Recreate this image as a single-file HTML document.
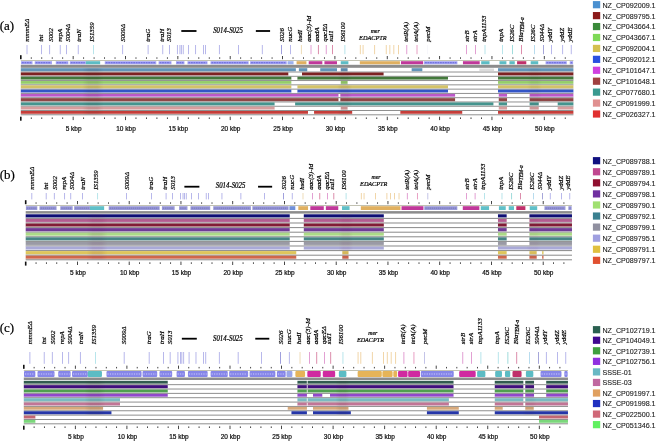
<!DOCTYPE html>
<html><head><meta charset="utf-8"><style>
html,body{margin:0;padding:0;background:#fff;width:657px;height:442px;overflow:hidden}
svg{display:block;filter:blur(0.35px)}
.pl{font-family:"Liberation Serif",serif;font-size:13px;fill:#000;stroke:#000;stroke-width:0.2px}
.gl{font-family:"Liberation Serif",serif;font-style:italic;font-size:7.6px;fill:#000;stroke:#000;stroke-width:0.2px}
.kb{font-family:"Liberation Sans",sans-serif;font-size:6.5px;fill:#111;stroke:#111;stroke-width:0.22px}
.lg{font-family:"Liberation Sans",sans-serif;font-size:7.15px;fill:#1a1a1a;stroke:#1a1a1a;stroke-width:0.1px}
</style></head><body>
<svg width="657" height="442" viewBox="0 0 657 442">
<rect width="657" height="442" fill="#fff"/>
<text x="-0.3" y="29.8" class="pl">(a)</text>
<text transform="translate(29.4 41.8) rotate(-90) scale(0.97 1)" class="gl" style="font-size:7.1px">mmmEΔ</text>
<text transform="translate(42.9 41.8) rotate(-90) scale(0.97 1)" class="gl" style="font-size:7.1px">int</text>
<text transform="translate(52.8 41.8) rotate(-90) scale(0.97 1)" class="gl" style="font-size:7.1px">S002</text>
<text transform="translate(61.9 41.8) rotate(-90) scale(0.97 1)" class="gl" style="font-size:7.1px">repA</text>
<text transform="translate(69.8 41.8) rotate(-90) scale(0.97 1)" class="gl" style="font-size:7.1px">S004Δ</text>
<text transform="translate(81.1 41.8) rotate(-90) scale(0.97 1)" class="gl" style="font-size:7.1px">traN</text>
<text transform="translate(94.1 41.8) rotate(-90) scale(0.97 1)" class="gl" style="font-size:7.1px">IS1359</text>
<text transform="translate(124.9 41.8) rotate(-90) scale(0.97 1)" class="gl" style="font-size:7.1px">S009Δ</text>
<text transform="translate(149.8 41.8) rotate(-90) scale(0.97 1)" class="gl" style="font-size:7.1px">traG</text>
<text transform="translate(163.5 41.8) rotate(-90) scale(0.97 1)" class="gl" style="font-size:7.1px">traH</text>
<text transform="translate(171.3 41.8) rotate(-90) scale(0.97 1)" class="gl" style="font-size:7.1px">S013</text>
<text transform="translate(283.9 41.8) rotate(-90) scale(0.97 1)" class="gl" style="font-size:7.1px">S026</text>
<text transform="translate(292.1 41.8) rotate(-90) scale(0.97 1)" class="gl" style="font-size:7.1px">nucG</text>
<text transform="translate(302.3 41.8) rotate(-90) scale(0.97 1)" class="gl" style="font-size:7.1px">hsdI</text>
<text transform="translate(311.3 41.8) rotate(-90) scale(0.97 1)" class="gl" style="font-size:7.1px">aac(3)-Id</text>
<text transform="translate(319.2 41.8) rotate(-90) scale(0.97 1)" class="gl" style="font-size:7.1px">aadA</text>
<text transform="translate(327.3 41.8) rotate(-90) scale(0.97 1)" class="gl" style="font-size:7.1px">qacEΔ</text>
<text transform="translate(332.8 41.8) rotate(-90) scale(0.97 1)" class="gl" style="font-size:7.1px">sul1</text>
<text transform="translate(344.9 41.8) rotate(-90) scale(0.97 1)" class="gl" style="font-size:7.1px">IS6100</text>
<text transform="translate(408.2 41.8) rotate(-90) scale(0.97 1)" class="gl" style="font-size:7.1px">tetR(A)</text>
<text transform="translate(417.7 41.8) rotate(-90) scale(0.97 1)" class="gl" style="font-size:7.1px">tetA(A)</text>
<text transform="translate(429.9 41.8) rotate(-90) scale(0.97 1)" class="gl" style="font-size:7.1px">pecM</text>
<text transform="translate(468.9 41.8) rotate(-90) scale(0.97 1)" class="gl" style="font-size:7.1px">strB</text>
<text transform="translate(476.9 41.8) rotate(-90) scale(0.97 1)" class="gl" style="font-size:7.1px">strA</text>
<text transform="translate(485.6 41.8) rotate(-90) scale(0.97 1)" class="gl" style="font-size:7.1px">tnpA1133</text>
<text transform="translate(503.2 41.8) rotate(-90) scale(0.97 1)" class="gl" style="font-size:7.1px">tnpA</text>
<text transform="translate(513.5 41.8) rotate(-90) scale(0.97 1)" class="gl" style="font-size:7.1px">IS26C</text>
<text transform="translate(522.8 41.8) rotate(-90) scale(0.97 1)" class="gl" style="font-size:7.1px">Bla<tspan font-size="5.4" dy="0.8">TEM-a</tspan></text>
<text transform="translate(535.1 41.8) rotate(-90) scale(0.97 1)" class="gl" style="font-size:7.1px">IS26C</text>
<text transform="translate(543.5 41.8) rotate(-90) scale(0.97 1)" class="gl" style="font-size:7.1px">S044Δ</text>
<text transform="translate(552 41.8) rotate(-90) scale(0.97 1)" class="gl" style="font-size:7.1px">yddY</text>
<text transform="translate(563.9 41.8) rotate(-90) scale(0.97 1)" class="gl" style="font-size:7.1px">yddZ</text>
<text transform="translate(571.5 41.8) rotate(-90) scale(0.97 1)" class="gl" style="font-size:7.1px">yddE</text>
<rect x="181.31" y="30.1" width="15.18" height="1.8" fill="#000"/>
<rect x="255.85" y="30.1" width="14.24" height="1.8" fill="#000"/>
<text transform="translate(228 33) scale(0.9 1)" class="gl" text-anchor="middle">S014-S025</text>
<text x="375.21" y="32.6" class="gl" text-anchor="middle" style="font-size:5.8px">mer</text>
<text x="372.8" y="39.9" class="gl" text-anchor="middle" style="font-size:6.6px" textLength="27.43" lengthAdjust="spacingAndGlyphs">EDACPTR</text>
<rect x="26.63" y="45" width="0.75" height="9.2" fill="#a0a0e4"/>
<rect x="41.13" y="45" width="0.75" height="9.2" fill="#a0a0e4"/>
<rect x="49.33" y="45" width="0.75" height="9.2" fill="#a0a0e4"/>
<rect x="59.83" y="45" width="0.75" height="9.2" fill="#a0a0e4"/>
<rect x="66.03" y="45" width="0.75" height="9.2" fill="#a0a0e4"/>
<rect x="77.83" y="45" width="0.75" height="9.2" fill="#a0a0e4"/>
<rect x="93.23" y="45" width="0.75" height="9.2" fill="#a0dce4"/>
<rect x="122.33" y="45" width="0.75" height="9.2" fill="#a0a0e4"/>
<rect x="147.72" y="45" width="0.75" height="9.2" fill="#a0a0e4"/>
<rect x="162.42" y="45" width="0.75" height="9.2" fill="#a0a0e4"/>
<rect x="169.03" y="45" width="0.75" height="9.2" fill="#a0a0e4"/>
<rect x="176.96" y="45" width="0.75" height="9.2" fill="#a0a0e4"/>
<rect x="179.57" y="45" width="0.75" height="9.2" fill="#a0a0e4"/>
<rect x="180.94" y="45" width="0.75" height="9.2" fill="#a0a0e4"/>
<rect x="182.82" y="45" width="0.75" height="9.2" fill="#a0a0e4"/>
<rect x="188.26" y="45" width="0.75" height="9.2" fill="#a0a0e4"/>
<rect x="195.28" y="45" width="0.75" height="9.2" fill="#a0a0e4"/>
<rect x="203.03" y="45" width="0.75" height="9.2" fill="#a0a0e4"/>
<rect x="205.23" y="45" width="0.75" height="9.2" fill="#a0a0e4"/>
<rect x="218.94" y="45" width="0.75" height="9.2" fill="#a0a0e4"/>
<rect x="238.1" y="45" width="0.75" height="9.2" fill="#a0a0e4"/>
<rect x="261.87" y="45" width="0.75" height="9.2" fill="#a0a0e4"/>
<rect x="281.23" y="45" width="0.75" height="9.2" fill="#8080d0"/>
<rect x="290.03" y="45" width="0.75" height="9.2" fill="#a0a0e4"/>
<rect x="300.93" y="45" width="0.75" height="9.2" fill="#e8d0a0"/>
<rect x="310.63" y="45" width="0.75" height="9.2" fill="#d880c4"/>
<rect x="317.94" y="45" width="0.75" height="9.2" fill="#d06890"/>
<rect x="325.83" y="45" width="0.75" height="9.2" fill="#d880c4"/>
<rect x="332.13" y="45" width="0.75" height="9.2" fill="#d06890"/>
<rect x="344.53" y="45" width="0.75" height="9.2" fill="#a0dce4"/>
<rect x="359.87" y="45" width="0.75" height="9.2" fill="#ecc88c"/>
<rect x="362.69" y="45" width="0.75" height="9.2" fill="#ecc88c"/>
<rect x="374.32" y="45" width="0.75" height="9.2" fill="#ecc88c"/>
<rect x="385.83" y="45" width="0.75" height="9.2" fill="#ecc88c"/>
<rect x="389.5" y="45" width="0.75" height="9.2" fill="#ecc88c"/>
<rect x="393.48" y="45" width="0.75" height="9.2" fill="#ecc88c"/>
<rect x="398.08" y="45" width="0.75" height="9.2" fill="#ecc88c"/>
<rect x="406.43" y="45" width="0.75" height="9.2" fill="#d880c4"/>
<rect x="416.63" y="45" width="0.75" height="9.2" fill="#e080b0"/>
<rect x="427.23" y="45" width="0.75" height="9.2" fill="#f4f4fa"/>
<rect x="466.23" y="45" width="0.75" height="9.2" fill="#d880c4"/>
<rect x="475.03" y="45" width="0.75" height="9.2" fill="#d880c4"/>
<rect x="484.63" y="45" width="0.75" height="9.2" fill="#a0dce4"/>
<rect x="502.23" y="45" width="0.75" height="9.2" fill="#a0dce4"/>
<rect x="512.03" y="45" width="0.75" height="9.2" fill="#80d0d0"/>
<rect x="521.03" y="45" width="0.75" height="9.2" fill="#d06890"/>
<rect x="534.03" y="45" width="0.75" height="9.2" fill="#a0d0e8"/>
<rect x="543.13" y="45" width="0.75" height="9.2" fill="#8888cc"/>
<rect x="551.03" y="45" width="0.75" height="9.2" fill="#a0a0e4"/>
<rect x="562.33" y="45" width="0.75" height="9.2" fill="#a0a0e4"/>
<rect x="570.83" y="45" width="0.75" height="9.2" fill="#a0a0e4"/>
<rect x="20" y="55.2" width="1.6" height="4" fill="#111"/>
<rect x="30.82" y="57.3" width="0.9" height="1.5" fill="#333"/>
<rect x="41.29" y="57.3" width="0.9" height="1.5" fill="#333"/>
<rect x="51.76" y="57.3" width="0.9" height="1.5" fill="#333"/>
<rect x="62.23" y="57.3" width="0.9" height="1.5" fill="#333"/>
<rect x="72.7" y="56" width="0.9" height="3.2" fill="#333"/>
<rect x="83.17" y="57.3" width="0.9" height="1.5" fill="#333"/>
<rect x="93.64" y="57.3" width="0.9" height="1.5" fill="#333"/>
<rect x="104.11" y="57.3" width="0.9" height="1.5" fill="#333"/>
<rect x="114.58" y="57.3" width="0.9" height="1.5" fill="#333"/>
<rect x="125.05" y="56" width="0.9" height="3.2" fill="#333"/>
<rect x="135.52" y="57.3" width="0.9" height="1.5" fill="#333"/>
<rect x="145.99" y="57.3" width="0.9" height="1.5" fill="#333"/>
<rect x="156.46" y="57.3" width="0.9" height="1.5" fill="#333"/>
<rect x="166.93" y="57.3" width="0.9" height="1.5" fill="#333"/>
<rect x="177.4" y="56" width="0.9" height="3.2" fill="#333"/>
<rect x="187.87" y="57.3" width="0.9" height="1.5" fill="#333"/>
<rect x="198.34" y="57.3" width="0.9" height="1.5" fill="#333"/>
<rect x="208.81" y="57.3" width="0.9" height="1.5" fill="#333"/>
<rect x="219.28" y="57.3" width="0.9" height="1.5" fill="#333"/>
<rect x="229.75" y="56" width="0.9" height="3.2" fill="#333"/>
<rect x="240.22" y="57.3" width="0.9" height="1.5" fill="#333"/>
<rect x="250.69" y="57.3" width="0.9" height="1.5" fill="#333"/>
<rect x="261.16" y="57.3" width="0.9" height="1.5" fill="#333"/>
<rect x="271.63" y="57.3" width="0.9" height="1.5" fill="#333"/>
<rect x="282.1" y="56" width="0.9" height="3.2" fill="#333"/>
<rect x="292.57" y="57.3" width="0.9" height="1.5" fill="#333"/>
<rect x="303.04" y="57.3" width="0.9" height="1.5" fill="#333"/>
<rect x="313.51" y="57.3" width="0.9" height="1.5" fill="#333"/>
<rect x="323.98" y="57.3" width="0.9" height="1.5" fill="#333"/>
<rect x="334.45" y="56" width="0.9" height="3.2" fill="#333"/>
<rect x="344.92" y="57.3" width="0.9" height="1.5" fill="#333"/>
<rect x="355.39" y="57.3" width="0.9" height="1.5" fill="#333"/>
<rect x="365.86" y="57.3" width="0.9" height="1.5" fill="#333"/>
<rect x="376.33" y="57.3" width="0.9" height="1.5" fill="#333"/>
<rect x="386.8" y="56" width="0.9" height="3.2" fill="#333"/>
<rect x="397.27" y="57.3" width="0.9" height="1.5" fill="#333"/>
<rect x="407.74" y="57.3" width="0.9" height="1.5" fill="#333"/>
<rect x="418.21" y="57.3" width="0.9" height="1.5" fill="#333"/>
<rect x="428.68" y="57.3" width="0.9" height="1.5" fill="#333"/>
<rect x="439.15" y="56" width="0.9" height="3.2" fill="#333"/>
<rect x="449.62" y="57.3" width="0.9" height="1.5" fill="#333"/>
<rect x="460.09" y="57.3" width="0.9" height="1.5" fill="#333"/>
<rect x="470.56" y="57.3" width="0.9" height="1.5" fill="#333"/>
<rect x="481.03" y="57.3" width="0.9" height="1.5" fill="#333"/>
<rect x="491.5" y="56" width="0.9" height="3.2" fill="#333"/>
<rect x="501.97" y="57.3" width="0.9" height="1.5" fill="#333"/>
<rect x="512.44" y="57.3" width="0.9" height="1.5" fill="#333"/>
<rect x="522.91" y="57.3" width="0.9" height="1.5" fill="#333"/>
<rect x="533.38" y="57.3" width="0.9" height="1.5" fill="#333"/>
<rect x="543.85" y="56" width="0.9" height="3.2" fill="#333"/>
<rect x="554.32" y="57.3" width="0.9" height="1.5" fill="#333"/>
<rect x="564.79" y="57.3" width="0.9" height="1.5" fill="#333"/>
<rect x="20.8" y="60.3" width="552.61" height="0.6" fill="#9a9a80"/>
<rect x="21.01" y="61.2" width="11.52" height="3.1" rx="0" fill="#a4a4f4"/>
<line x1="22.01" y1="62.75" x2="31.53" y2="62.75" stroke="#6464d8" stroke-width="1.08" stroke-dasharray="1.8 0.7"/>
<rect x="34.73" y="61.2" width="17.28" height="3.1" rx="0" fill="#a4a4f4"/>
<line x1="35.73" y1="62.75" x2="51" y2="62.75" stroke="#6464d8" stroke-width="1.08" stroke-dasharray="1.8 0.7"/>
<rect x="55.77" y="61.2" width="12.56" height="3.1" rx="0" fill="#a4a4f4"/>
<line x1="56.77" y1="62.75" x2="67.33" y2="62.75" stroke="#6464d8" stroke-width="1.08" stroke-dasharray="1.8 0.7"/>
<rect x="69.8" y="61.2" width="16.02" height="3.1" rx="0" fill="#a4a4f4"/>
<line x1="70.8" y1="62.75" x2="84.82" y2="62.75" stroke="#6464d8" stroke-width="1.08" stroke-dasharray="1.8 0.7"/>
<rect x="85.82" y="61.2" width="14.34" height="3.1" rx="0" fill="#5cbcc4"/>
<rect x="104.77" y="61.2" width="51.51" height="3.1" rx="0" fill="#a4a4f4"/>
<line x1="105.77" y1="62.75" x2="155.28" y2="62.75" stroke="#6464d8" stroke-width="1.08" stroke-dasharray="1.8 0.7"/>
<rect x="158.59" y="61.2" width="12.88" height="3.1" rx="0" fill="#a4a4f4"/>
<line x1="159.59" y1="62.75" x2="170.46" y2="62.75" stroke="#6464d8" stroke-width="1.08" stroke-dasharray="1.8 0.7"/>
<rect x="175.97" y="61.2" width="8.48" height="3.1" rx="0" fill="#a4a4f4"/>
<line x1="176.97" y1="62.75" x2="183.45" y2="62.75" stroke="#6464d8" stroke-width="1.08" stroke-dasharray="1.8 0.7"/>
<rect x="187.48" y="61.2" width="20" height="3.1" rx="0" fill="#a4a4f4"/>
<line x1="188.48" y1="62.75" x2="206.48" y2="62.75" stroke="#6464d8" stroke-width="1.08" stroke-dasharray="1.8 0.7"/>
<rect x="210.52" y="61.2" width="38.11" height="3.1" rx="0" fill="#a4a4f4"/>
<line x1="211.52" y1="62.75" x2="247.63" y2="62.75" stroke="#6464d8" stroke-width="1.08" stroke-dasharray="1.8 0.7"/>
<rect x="250.09" y="61.2" width="36.65" height="3.1" rx="0" fill="#a4a4f4"/>
<line x1="251.09" y1="62.75" x2="285.74" y2="62.75" stroke="#6464d8" stroke-width="1.08" stroke-dasharray="1.8 0.7"/>
<rect x="287.58" y="61.2" width="5.97" height="3.1" rx="0" fill="#9ab0f0"/>
<rect x="296.58" y="61.2" width="9.84" height="3.1" rx="0" fill="#e0b060"/>
<rect x="308.73" y="61.2" width="13.61" height="3.1" rx="0" fill="#c0389a"/>
<rect x="324.43" y="61.2" width="12.56" height="3.1" rx="0" fill="#c0389a"/>
<rect x="340.76" y="61.2" width="7.64" height="3.1" rx="0" fill="#5cbcc4"/>
<rect x="359.82" y="61.2" width="40.1" height="3.1" rx="0" fill="#e0b060"/>
<rect x="400.97" y="61.2" width="22.2" height="3.1" rx="0" fill="#c0389a"/>
<rect x="424" y="61.2" width="33.4" height="3.1" rx="0" fill="#a4a4f4"/>
<line x1="425" y1="62.75" x2="456.4" y2="62.75" stroke="#6464d8" stroke-width="1.08" stroke-dasharray="1.8 0.7"/>
<rect x="462.95" y="61.2" width="16.75" height="3.1" rx="0" fill="#c0389a"/>
<rect x="481.17" y="61.2" width="8.38" height="3.1" rx="0" fill="#5cbcc4"/>
<rect x="499.49" y="61.2" width="6.91" height="3.1" rx="0" fill="#5cbcc4"/>
<rect x="509.43" y="61.2" width="5.34" height="3.1" rx="0" fill="#5cbcc4"/>
<rect x="517.08" y="61.2" width="9.21" height="3.1" rx="0" fill="#c0306a"/>
<rect x="530.69" y="61.2" width="7.54" height="3.1" rx="0" fill="#5cbcc4"/>
<rect x="545.56" y="61.2" width="21.25" height="3.1" rx="0" fill="#a4a4f4"/>
<line x1="546.56" y1="62.75" x2="565.81" y2="62.75" stroke="#6464d8" stroke-width="1.08" stroke-dasharray="1.8 0.7"/>
<rect x="569.74" y="61.2" width="3.35" height="3.1" rx="0" fill="#a4a4f4"/>
<line x1="570.74" y1="62.75" x2="572.09" y2="62.75" stroke="#6464d8" stroke-width="1.08" stroke-dasharray="1.8 0.7"/>
<rect x="20.8" y="64.8" width="552.61" height="3" fill="#8c8c8c"/>
<rect x="20.8" y="68.2" width="275.05" height="2.82" fill="#6295b9"/>
<rect x="20.8" y="71.02" width="275.05" height="0.51" fill="#a8c4d8"/>
<rect x="298.88" y="68.2" width="8.38" height="2.82" fill="#6295b9"/>
<rect x="298.88" y="71.02" width="8.38" height="0.51" fill="#a8c4d8"/>
<rect x="320.24" y="68.2" width="16.75" height="2.82" fill="#6295b9"/>
<rect x="320.24" y="71.02" width="16.75" height="0.51" fill="#a8c4d8"/>
<rect x="340.76" y="68.2" width="6.81" height="2.82" fill="#6295b9"/>
<rect x="340.76" y="71.02" width="6.81" height="0.51" fill="#a8c4d8"/>
<rect x="411.65" y="68.2" width="10.68" height="2.82" fill="#6295b9"/>
<rect x="411.65" y="71.02" width="10.68" height="0.51" fill="#a8c4d8"/>
<rect x="498.02" y="68.2" width="75.38" height="2.82" fill="#6295b9"/>
<rect x="498.02" y="71.02" width="75.38" height="0.51" fill="#a8c4d8"/>
<rect x="20.8" y="71.54" width="552.61" height="0.94" fill="#8a8a8a"/>
<rect x="20.8" y="72.48" width="267.51" height="2.82" fill="#7d2222"/>
<rect x="20.8" y="75.3" width="267.51" height="0.51" fill="#b78585"/>
<rect x="302.02" y="72.48" width="81.56" height="2.82" fill="#7d2222"/>
<rect x="302.02" y="75.3" width="81.56" height="0.51" fill="#b78585"/>
<rect x="498.02" y="72.48" width="75.38" height="2.82" fill="#7d2222"/>
<rect x="498.02" y="75.3" width="75.38" height="0.51" fill="#b78585"/>
<rect x="20.8" y="75.82" width="552.61" height="0.94" fill="#8a8a8a"/>
<rect x="20.8" y="76.76" width="270.54" height="2.82" fill="#43793b"/>
<rect x="20.8" y="79.58" width="270.54" height="0.51" fill="#97b593"/>
<rect x="297.42" y="76.76" width="150.56" height="2.82" fill="#43793b"/>
<rect x="297.42" y="79.58" width="150.56" height="0.51" fill="#97b593"/>
<rect x="498.02" y="76.76" width="75.38" height="2.82" fill="#43793b"/>
<rect x="498.02" y="79.58" width="75.38" height="0.51" fill="#97b593"/>
<rect x="20.8" y="80.1" width="552.61" height="0.94" fill="#8a8a8a"/>
<rect x="20.8" y="81.04" width="270.54" height="2.82" fill="#95cd69"/>
<rect x="20.8" y="83.86" width="270.54" height="0.51" fill="#c4e3ac"/>
<rect x="340.76" y="81.04" width="6.81" height="2.82" fill="#95cd69"/>
<rect x="340.76" y="83.86" width="6.81" height="0.51" fill="#c4e3ac"/>
<rect x="498.02" y="81.04" width="75.38" height="2.82" fill="#95cd69"/>
<rect x="498.02" y="83.86" width="75.38" height="0.51" fill="#c4e3ac"/>
<rect x="20.8" y="84.38" width="552.61" height="0.94" fill="#8a8a8a"/>
<rect x="20.8" y="85.32" width="270.54" height="2.82" fill="#d3c267"/>
<rect x="20.8" y="88.14" width="270.54" height="0.51" fill="#e6ddab"/>
<rect x="297.42" y="85.32" width="150.56" height="2.82" fill="#d3c267"/>
<rect x="297.42" y="88.14" width="150.56" height="0.51" fill="#e6ddab"/>
<rect x="498.02" y="85.32" width="75.38" height="2.82" fill="#d3c267"/>
<rect x="498.02" y="88.14" width="75.38" height="0.51" fill="#e6ddab"/>
<rect x="20.8" y="88.66" width="552.61" height="0.94" fill="#8a8a8a"/>
<rect x="20.8" y="89.6" width="270.54" height="2.82" fill="#3355c7"/>
<rect x="20.8" y="92.42" width="270.54" height="0.51" fill="#8ea1e0"/>
<rect x="297.42" y="89.6" width="150.56" height="2.82" fill="#3355c7"/>
<rect x="297.42" y="92.42" width="150.56" height="0.51" fill="#8ea1e0"/>
<rect x="498.02" y="89.6" width="75.38" height="2.82" fill="#3355c7"/>
<rect x="498.02" y="92.42" width="75.38" height="0.51" fill="#8ea1e0"/>
<rect x="20.8" y="92.94" width="552.61" height="0.94" fill="#8a8a8a"/>
<rect x="20.8" y="93.88" width="317.66" height="2.82" fill="#bc58c8"/>
<rect x="20.8" y="96.7" width="317.66" height="0.51" fill="#daa3e0"/>
<rect x="340.34" y="93.88" width="114.75" height="2.82" fill="#bc58c8"/>
<rect x="340.34" y="96.7" width="114.75" height="0.51" fill="#daa3e0"/>
<rect x="498.76" y="93.88" width="8.27" height="2.82" fill="#bc58c8"/>
<rect x="498.76" y="96.7" width="8.27" height="0.51" fill="#daa3e0"/>
<rect x="529.64" y="93.88" width="43.76" height="2.82" fill="#bc58c8"/>
<rect x="529.64" y="96.7" width="43.76" height="0.51" fill="#daa3e0"/>
<rect x="20.8" y="97.22" width="552.61" height="0.94" fill="#8a8a8a"/>
<rect x="20.8" y="98.16" width="317.66" height="2.82" fill="#8e4444"/>
<rect x="20.8" y="100.98" width="317.66" height="0.51" fill="#c09898"/>
<rect x="340.34" y="98.16" width="114.75" height="2.82" fill="#8e4444"/>
<rect x="340.34" y="100.98" width="114.75" height="0.51" fill="#c09898"/>
<rect x="498.76" y="98.16" width="8.27" height="2.82" fill="#8e4444"/>
<rect x="498.76" y="100.98" width="8.27" height="0.51" fill="#c09898"/>
<rect x="529.64" y="98.16" width="43.76" height="2.82" fill="#8e4444"/>
<rect x="529.64" y="100.98" width="43.76" height="0.51" fill="#c09898"/>
<rect x="20.8" y="101.5" width="552.61" height="0.94" fill="#8a8a8a"/>
<rect x="20.8" y="102.44" width="253.79" height="2.82" fill="#45948e"/>
<rect x="20.8" y="105.26" width="253.79" height="0.51" fill="#98c4c0"/>
<rect x="295.11" y="102.44" width="198.3" height="2.82" fill="#45948e"/>
<rect x="295.11" y="105.26" width="198.3" height="0.51" fill="#98c4c0"/>
<rect x="498.76" y="102.44" width="8.27" height="2.82" fill="#45948e"/>
<rect x="498.76" y="105.26" width="8.27" height="0.51" fill="#98c4c0"/>
<rect x="529.64" y="102.44" width="9.11" height="2.82" fill="#45948e"/>
<rect x="529.64" y="105.26" width="9.11" height="0.51" fill="#98c4c0"/>
<rect x="557.7" y="102.44" width="15.71" height="2.82" fill="#45948e"/>
<rect x="557.7" y="105.26" width="15.71" height="0.51" fill="#98c4c0"/>
<rect x="20.8" y="105.78" width="552.61" height="0.94" fill="#8a8a8a"/>
<rect x="20.8" y="106.72" width="253.79" height="2.82" fill="#d89d9d"/>
<rect x="20.8" y="109.54" width="253.79" height="0.51" fill="#e9c9c9"/>
<rect x="340.76" y="106.72" width="6.81" height="2.82" fill="#d89d9d"/>
<rect x="340.76" y="109.54" width="6.81" height="0.51" fill="#e9c9c9"/>
<rect x="498.76" y="106.72" width="8.27" height="2.82" fill="#d89d9d"/>
<rect x="498.76" y="109.54" width="8.27" height="0.51" fill="#e9c9c9"/>
<rect x="529.64" y="106.72" width="9.11" height="2.82" fill="#d89d9d"/>
<rect x="529.64" y="109.54" width="9.11" height="0.51" fill="#e9c9c9"/>
<rect x="557.7" y="106.72" width="15.71" height="2.82" fill="#d89d9d"/>
<rect x="557.7" y="109.54" width="15.71" height="0.51" fill="#e9c9c9"/>
<rect x="20.8" y="110.06" width="552.61" height="0.94" fill="#8a8a8a"/>
<rect x="20.8" y="111" width="287.19" height="2.82" fill="#c63d39"/>
<rect x="20.8" y="113.82" width="287.19" height="0.51" fill="#df9492"/>
<rect x="314.06" y="111" width="38.11" height="2.82" fill="#c63d39"/>
<rect x="314.06" y="113.82" width="38.11" height="0.51" fill="#df9492"/>
<rect x="400.34" y="111" width="61.88" height="2.82" fill="#c63d39"/>
<rect x="400.34" y="113.82" width="61.88" height="0.51" fill="#df9492"/>
<rect x="498.02" y="111" width="75.38" height="2.82" fill="#c63d39"/>
<rect x="498.02" y="113.82" width="75.38" height="0.51" fill="#df9492"/>
<rect x="20.8" y="114.34" width="552.61" height="0.94" fill="#8a8a8a"/>
<rect x="479.39" y="68.5" width="14.66" height="2.57" fill="#dcdcdc"/>
<defs><linearGradient id="sg283" gradientUnits="userSpaceOnUse" x1="82.15" y1="0" x2="103.83" y2="0"><stop offset="0" stop-color="#302020" stop-opacity="0"/><stop offset="0.3" stop-color="#302020" stop-opacity="0.11"/><stop offset="0.7" stop-color="#302020" stop-opacity="0.11"/><stop offset="1" stop-color="#302020" stop-opacity="0"/></linearGradient></defs>
<rect x="82.15" y="68.2" width="21.67" height="3.51" fill="url(#sg283)"/>
<rect x="82.15" y="72.48" width="21.67" height="3.51" fill="url(#sg283)"/>
<rect x="82.15" y="76.76" width="21.67" height="3.51" fill="url(#sg283)"/>
<rect x="82.15" y="81.04" width="21.67" height="3.51" fill="url(#sg283)"/>
<rect x="82.15" y="85.32" width="21.67" height="3.51" fill="url(#sg283)"/>
<rect x="82.15" y="89.6" width="21.67" height="3.51" fill="url(#sg283)"/>
<rect x="82.15" y="93.88" width="21.67" height="3.51" fill="url(#sg283)"/>
<rect x="82.15" y="98.16" width="21.67" height="3.51" fill="url(#sg283)"/>
<rect x="82.15" y="102.44" width="21.67" height="3.51" fill="url(#sg283)"/>
<rect x="82.15" y="106.72" width="21.67" height="3.51" fill="url(#sg283)"/>
<rect x="82.15" y="111" width="21.67" height="3.51" fill="url(#sg283)"/>
<defs><linearGradient id="sg295" gradientUnits="userSpaceOnUse" x1="337.1" y1="0" x2="352.07" y2="0"><stop offset="0" stop-color="#302020" stop-opacity="0"/><stop offset="0.3" stop-color="#302020" stop-opacity="0.09"/><stop offset="0.7" stop-color="#302020" stop-opacity="0.09"/><stop offset="1" stop-color="#302020" stop-opacity="0"/></linearGradient></defs>
<rect x="340.76" y="68.2" width="6.81" height="3.51" fill="url(#sg295)"/>
<rect x="337.1" y="72.48" width="14.97" height="3.51" fill="url(#sg295)"/>
<rect x="337.1" y="76.76" width="14.97" height="3.51" fill="url(#sg295)"/>
<rect x="340.76" y="81.04" width="6.81" height="3.51" fill="url(#sg295)"/>
<rect x="337.1" y="85.32" width="14.97" height="3.51" fill="url(#sg295)"/>
<rect x="337.1" y="89.6" width="14.97" height="3.51" fill="url(#sg295)"/>
<rect x="337.1" y="93.88" width="1.36" height="3.51" fill="url(#sg295)"/>
<rect x="340.34" y="93.88" width="11.73" height="3.51" fill="url(#sg295)"/>
<rect x="337.1" y="98.16" width="1.36" height="3.51" fill="url(#sg295)"/>
<rect x="340.34" y="98.16" width="11.73" height="3.51" fill="url(#sg295)"/>
<rect x="337.1" y="102.44" width="14.97" height="3.51" fill="url(#sg295)"/>
<rect x="340.76" y="106.72" width="6.81" height="3.51" fill="url(#sg295)"/>
<rect x="337.1" y="111" width="14.97" height="3.51" fill="url(#sg295)"/>
<defs><linearGradient id="sg309" gradientUnits="userSpaceOnUse" x1="527.02" y1="0" x2="541.89" y2="0"><stop offset="0" stop-color="#302020" stop-opacity="0"/><stop offset="0.3" stop-color="#302020" stop-opacity="0.06"/><stop offset="0.7" stop-color="#302020" stop-opacity="0.06"/><stop offset="1" stop-color="#302020" stop-opacity="0"/></linearGradient></defs>
<rect x="527.02" y="68.2" width="14.87" height="3.51" fill="url(#sg309)"/>
<rect x="527.02" y="72.48" width="14.87" height="3.51" fill="url(#sg309)"/>
<rect x="527.02" y="76.76" width="14.87" height="3.51" fill="url(#sg309)"/>
<rect x="527.02" y="81.04" width="14.87" height="3.51" fill="url(#sg309)"/>
<rect x="527.02" y="85.32" width="14.87" height="3.51" fill="url(#sg309)"/>
<rect x="527.02" y="89.6" width="14.87" height="3.51" fill="url(#sg309)"/>
<rect x="529.64" y="93.88" width="12.25" height="3.51" fill="url(#sg309)"/>
<rect x="529.64" y="98.16" width="12.25" height="3.51" fill="url(#sg309)"/>
<rect x="529.64" y="102.44" width="9.11" height="3.51" fill="url(#sg309)"/>
<rect x="529.64" y="106.72" width="9.11" height="3.51" fill="url(#sg309)"/>
<rect x="527.02" y="111" width="14.87" height="3.51" fill="url(#sg309)"/>
<rect x="20" y="116.7" width="1.6" height="4" fill="#111"/>
<rect x="30.82" y="117.4" width="0.9" height="1.6" fill="#333"/>
<rect x="41.29" y="117.4" width="0.9" height="1.6" fill="#333"/>
<rect x="51.76" y="117.4" width="0.9" height="1.6" fill="#333"/>
<rect x="62.23" y="117.4" width="0.9" height="1.6" fill="#333"/>
<rect x="72.7" y="116.7" width="0.9" height="3.4" fill="#333"/>
<text x="73.65" y="130.6" class="kb" text-anchor="middle">5 kbp</text>
<rect x="83.17" y="117.4" width="0.9" height="1.6" fill="#333"/>
<rect x="93.64" y="117.4" width="0.9" height="1.6" fill="#333"/>
<rect x="104.11" y="117.4" width="0.9" height="1.6" fill="#333"/>
<rect x="114.58" y="117.4" width="0.9" height="1.6" fill="#333"/>
<rect x="125.05" y="116.7" width="0.9" height="3.4" fill="#333"/>
<text x="126" y="130.6" class="kb" text-anchor="middle">10 kbp</text>
<rect x="135.52" y="117.4" width="0.9" height="1.6" fill="#333"/>
<rect x="145.99" y="117.4" width="0.9" height="1.6" fill="#333"/>
<rect x="156.46" y="117.4" width="0.9" height="1.6" fill="#333"/>
<rect x="166.93" y="117.4" width="0.9" height="1.6" fill="#333"/>
<rect x="177.4" y="116.7" width="0.9" height="3.4" fill="#333"/>
<text x="178.35" y="130.6" class="kb" text-anchor="middle">15 kbp</text>
<rect x="187.87" y="117.4" width="0.9" height="1.6" fill="#333"/>
<rect x="198.34" y="117.4" width="0.9" height="1.6" fill="#333"/>
<rect x="208.81" y="117.4" width="0.9" height="1.6" fill="#333"/>
<rect x="219.28" y="117.4" width="0.9" height="1.6" fill="#333"/>
<rect x="229.75" y="116.7" width="0.9" height="3.4" fill="#333"/>
<text x="230.7" y="130.6" class="kb" text-anchor="middle">20 kbp</text>
<rect x="240.22" y="117.4" width="0.9" height="1.6" fill="#333"/>
<rect x="250.69" y="117.4" width="0.9" height="1.6" fill="#333"/>
<rect x="261.16" y="117.4" width="0.9" height="1.6" fill="#333"/>
<rect x="271.63" y="117.4" width="0.9" height="1.6" fill="#333"/>
<rect x="282.1" y="116.7" width="0.9" height="3.4" fill="#333"/>
<text x="283.05" y="130.6" class="kb" text-anchor="middle">25 kbp</text>
<rect x="292.57" y="117.4" width="0.9" height="1.6" fill="#333"/>
<rect x="303.04" y="117.4" width="0.9" height="1.6" fill="#333"/>
<rect x="313.51" y="117.4" width="0.9" height="1.6" fill="#333"/>
<rect x="323.98" y="117.4" width="0.9" height="1.6" fill="#333"/>
<rect x="334.45" y="116.7" width="0.9" height="3.4" fill="#333"/>
<text x="335.4" y="130.6" class="kb" text-anchor="middle">30 kbp</text>
<rect x="344.92" y="117.4" width="0.9" height="1.6" fill="#333"/>
<rect x="355.39" y="117.4" width="0.9" height="1.6" fill="#333"/>
<rect x="365.86" y="117.4" width="0.9" height="1.6" fill="#333"/>
<rect x="376.33" y="117.4" width="0.9" height="1.6" fill="#333"/>
<rect x="386.8" y="116.7" width="0.9" height="3.4" fill="#333"/>
<text x="387.75" y="130.6" class="kb" text-anchor="middle">35 kbp</text>
<rect x="397.27" y="117.4" width="0.9" height="1.6" fill="#333"/>
<rect x="407.74" y="117.4" width="0.9" height="1.6" fill="#333"/>
<rect x="418.21" y="117.4" width="0.9" height="1.6" fill="#333"/>
<rect x="428.68" y="117.4" width="0.9" height="1.6" fill="#333"/>
<rect x="439.15" y="116.7" width="0.9" height="3.4" fill="#333"/>
<text x="440.1" y="130.6" class="kb" text-anchor="middle">40 kbp</text>
<rect x="449.62" y="117.4" width="0.9" height="1.6" fill="#333"/>
<rect x="460.09" y="117.4" width="0.9" height="1.6" fill="#333"/>
<rect x="470.56" y="117.4" width="0.9" height="1.6" fill="#333"/>
<rect x="481.03" y="117.4" width="0.9" height="1.6" fill="#333"/>
<rect x="491.5" y="116.7" width="0.9" height="3.4" fill="#333"/>
<text x="492.45" y="130.6" class="kb" text-anchor="middle">45 kbp</text>
<rect x="501.97" y="117.4" width="0.9" height="1.6" fill="#333"/>
<rect x="512.44" y="117.4" width="0.9" height="1.6" fill="#333"/>
<rect x="522.91" y="117.4" width="0.9" height="1.6" fill="#333"/>
<rect x="533.38" y="117.4" width="0.9" height="1.6" fill="#333"/>
<rect x="543.85" y="116.7" width="0.9" height="3.4" fill="#333"/>
<text x="544.8" y="130.6" class="kb" text-anchor="middle">50 kbp</text>
<rect x="554.32" y="117.4" width="0.9" height="1.6" fill="#333"/>
<rect x="564.79" y="117.4" width="0.9" height="1.6" fill="#333"/>
<rect x="592.9" y="1.1" width="7.3" height="7.2" fill="#4a90d0"/>
<text x="602.4" y="7.6" class="lg">NZ_CP092009.1</text>
<rect x="592.9" y="12.03" width="7.3" height="7.2" fill="#8b1a1a"/>
<text x="602.4" y="18.53" class="lg">NZ_CP089795.1</text>
<rect x="592.9" y="22.96" width="7.3" height="7.2" fill="#3a8a3a"/>
<text x="602.4" y="29.46" class="lg">NZ_CP043664.1</text>
<rect x="592.9" y="33.89" width="7.3" height="7.2" fill="#7ed957"/>
<text x="602.4" y="40.39" class="lg">NZ_CP043667.1</text>
<rect x="592.9" y="44.82" width="7.3" height="7.2" fill="#d4c050"/>
<text x="602.4" y="51.32" class="lg">NZ_CP092004.1</text>
<rect x="592.9" y="55.75" width="7.3" height="7.2" fill="#2a50e0"/>
<text x="602.4" y="62.25" class="lg">NZ_CP092012.1</text>
<rect x="592.9" y="66.68" width="7.3" height="7.2" fill="#d040e0"/>
<text x="602.4" y="73.18" class="lg">NZ_CP101647.1</text>
<rect x="592.9" y="77.61" width="7.3" height="7.2" fill="#a04040"/>
<text x="602.4" y="84.11" class="lg">NZ_CP101648.1</text>
<rect x="592.9" y="88.54" width="7.3" height="7.2" fill="#3a9a90"/>
<text x="602.4" y="95.04" class="lg">NZ_CP077680.1</text>
<rect x="592.9" y="99.47" width="7.3" height="7.2" fill="#e09090"/>
<text x="602.4" y="105.97" class="lg">NZ_CP091999.1</text>
<rect x="592.9" y="110.4" width="7.3" height="7.2" fill="#e03030"/>
<text x="602.4" y="116.9" class="lg">NZ_CP026327.1</text>
<text x="-0.3" y="178.7" class="pl">(b)</text>
<text transform="translate(34.23 189.8) rotate(-90) scale(0.97 1)" class="gl" style="font-size:7.1px">mmmEΔ</text>
<text transform="translate(47.57 189.8) rotate(-90) scale(0.97 1)" class="gl" style="font-size:7.1px">int</text>
<text transform="translate(57.36 189.8) rotate(-90) scale(0.97 1)" class="gl" style="font-size:7.1px">S002</text>
<text transform="translate(66.36 189.8) rotate(-90) scale(0.97 1)" class="gl" style="font-size:7.1px">repA</text>
<text transform="translate(74.16 189.8) rotate(-90) scale(0.97 1)" class="gl" style="font-size:7.1px">S004Δ</text>
<text transform="translate(85.34 189.8) rotate(-90) scale(0.97 1)" class="gl" style="font-size:7.1px">traN</text>
<text transform="translate(98.18 189.8) rotate(-90) scale(0.97 1)" class="gl" style="font-size:7.1px">IS1359</text>
<text transform="translate(128.63 189.8) rotate(-90) scale(0.97 1)" class="gl" style="font-size:7.1px">S009Δ</text>
<text transform="translate(153.25 189.8) rotate(-90) scale(0.97 1)" class="gl" style="font-size:7.1px">traG</text>
<text transform="translate(166.79 189.8) rotate(-90) scale(0.97 1)" class="gl" style="font-size:7.1px">traH</text>
<text transform="translate(174.5 189.8) rotate(-90) scale(0.97 1)" class="gl" style="font-size:7.1px">S013</text>
<text transform="translate(285.81 189.8) rotate(-90) scale(0.97 1)" class="gl" style="font-size:7.1px">S026</text>
<text transform="translate(293.91 189.8) rotate(-90) scale(0.97 1)" class="gl" style="font-size:7.1px">nucG</text>
<text transform="translate(304 189.8) rotate(-90) scale(0.97 1)" class="gl" style="font-size:7.1px">hsdI</text>
<text transform="translate(312.89 189.8) rotate(-90) scale(0.97 1)" class="gl" style="font-size:7.1px">aac(3)-Id</text>
<text transform="translate(320.71 189.8) rotate(-90) scale(0.97 1)" class="gl" style="font-size:7.1px">aadA</text>
<text transform="translate(328.71 189.8) rotate(-90) scale(0.97 1)" class="gl" style="font-size:7.1px">qacEΔ</text>
<text transform="translate(334.15 189.8) rotate(-90) scale(0.97 1)" class="gl" style="font-size:7.1px">sul1</text>
<text transform="translate(346.11 189.8) rotate(-90) scale(0.97 1)" class="gl" style="font-size:7.1px">IS6100</text>
<text transform="translate(408.68 189.8) rotate(-90) scale(0.97 1)" class="gl" style="font-size:7.1px">tetR(A)</text>
<text transform="translate(418.08 189.8) rotate(-90) scale(0.97 1)" class="gl" style="font-size:7.1px">tetA(A)</text>
<text transform="translate(430.14 189.8) rotate(-90) scale(0.97 1)" class="gl" style="font-size:7.1px">pecM</text>
<text transform="translate(468.69 189.8) rotate(-90) scale(0.97 1)" class="gl" style="font-size:7.1px">strB</text>
<text transform="translate(476.6 189.8) rotate(-90) scale(0.97 1)" class="gl" style="font-size:7.1px">strA</text>
<text transform="translate(485.2 189.8) rotate(-90) scale(0.97 1)" class="gl" style="font-size:7.1px">tnpA1133</text>
<text transform="translate(502.6 189.8) rotate(-90) scale(0.97 1)" class="gl" style="font-size:7.1px">tnpA</text>
<text transform="translate(512.78 189.8) rotate(-90) scale(0.97 1)" class="gl" style="font-size:7.1px">IS26C</text>
<text transform="translate(521.97 189.8) rotate(-90) scale(0.97 1)" class="gl" style="font-size:7.1px">Bla<tspan font-size="5.4" dy="0.8">TEM-a</tspan></text>
<text transform="translate(534.14 189.8) rotate(-90) scale(0.97 1)" class="gl" style="font-size:7.1px">IS26C</text>
<text transform="translate(542.44 189.8) rotate(-90) scale(0.97 1)" class="gl" style="font-size:7.1px">S044Δ</text>
<text transform="translate(550.84 189.8) rotate(-90) scale(0.97 1)" class="gl" style="font-size:7.1px">yddY</text>
<text transform="translate(562.6 189.8) rotate(-90) scale(0.97 1)" class="gl" style="font-size:7.1px">yddZ</text>
<text transform="translate(570.11 189.8) rotate(-90) scale(0.97 1)" class="gl" style="font-size:7.1px">yddE</text>
<rect x="184.37" y="185.8" width="15.01" height="1.8" fill="#000"/>
<rect x="258.06" y="185.8" width="14.08" height="1.8" fill="#000"/>
<text transform="translate(230.53 188.2) scale(0.9 1)" class="gl" text-anchor="middle">S014-S025</text>
<text x="376.05" y="179.3" class="gl" text-anchor="middle" style="font-size:5.8px">mer</text>
<text x="373.67" y="186.1" class="gl" text-anchor="middle" style="font-size:6.6px" textLength="27.12" lengthAdjust="spacingAndGlyphs">EDACPTR</text>
<rect x="31.46" y="193" width="0.75" height="6.4" fill="#a0a0e4"/>
<rect x="45.79" y="193" width="0.75" height="6.4" fill="#a0a0e4"/>
<rect x="53.9" y="193" width="0.75" height="6.4" fill="#a0a0e4"/>
<rect x="64.28" y="193" width="0.75" height="6.4" fill="#a0a0e4"/>
<rect x="70.4" y="193" width="0.75" height="6.4" fill="#a0a0e4"/>
<rect x="82.07" y="193" width="0.75" height="6.4" fill="#a0a0e4"/>
<rect x="97.29" y="193" width="0.75" height="6.4" fill="#a0dce4"/>
<rect x="126.07" y="193" width="0.75" height="6.4" fill="#a0a0e4"/>
<rect x="151.17" y="193" width="0.75" height="6.4" fill="#a0a0e4"/>
<rect x="165.7" y="193" width="0.75" height="6.4" fill="#a0a0e4"/>
<rect x="172.23" y="193" width="0.75" height="6.4" fill="#a0a0e4"/>
<rect x="180.06" y="193" width="0.75" height="6.4" fill="#a0a0e4"/>
<rect x="182.65" y="193" width="0.75" height="6.4" fill="#a0a0e4"/>
<rect x="184" y="193" width="0.75" height="6.4" fill="#a0a0e4"/>
<rect x="185.86" y="193" width="0.75" height="6.4" fill="#a0a0e4"/>
<rect x="191.24" y="193" width="0.75" height="6.4" fill="#a0a0e4"/>
<rect x="198.17" y="193" width="0.75" height="6.4" fill="#a0a0e4"/>
<rect x="205.83" y="193" width="0.75" height="6.4" fill="#a0a0e4"/>
<rect x="208.01" y="193" width="0.75" height="6.4" fill="#a0a0e4"/>
<rect x="221.57" y="193" width="0.75" height="6.4" fill="#a0a0e4"/>
<rect x="240.51" y="193" width="0.75" height="6.4" fill="#a0a0e4"/>
<rect x="264" y="193" width="0.75" height="6.4" fill="#a0a0e4"/>
<rect x="283.14" y="193" width="0.75" height="6.4" fill="#8080d0"/>
<rect x="291.84" y="193" width="0.75" height="6.4" fill="#a0a0e4"/>
<rect x="302.62" y="193" width="0.75" height="6.4" fill="#e8d0a0"/>
<rect x="312.2" y="193" width="0.75" height="6.4" fill="#d880c4"/>
<rect x="319.43" y="193" width="0.75" height="6.4" fill="#d06890"/>
<rect x="327.23" y="193" width="0.75" height="6.4" fill="#d880c4"/>
<rect x="333.46" y="193" width="0.75" height="6.4" fill="#d06890"/>
<rect x="345.71" y="193" width="0.75" height="6.4" fill="#a0dce4"/>
<rect x="360.88" y="193" width="0.75" height="6.4" fill="#ecc88c"/>
<rect x="363.67" y="193" width="0.75" height="6.4" fill="#ecc88c"/>
<rect x="375.16" y="193" width="0.75" height="6.4" fill="#ecc88c"/>
<rect x="386.54" y="193" width="0.75" height="6.4" fill="#ecc88c"/>
<rect x="390.17" y="193" width="0.75" height="6.4" fill="#ecc88c"/>
<rect x="394.1" y="193" width="0.75" height="6.4" fill="#ecc88c"/>
<rect x="398.65" y="193" width="0.75" height="6.4" fill="#ecc88c"/>
<rect x="406.9" y="193" width="0.75" height="6.4" fill="#d880c4"/>
<rect x="416.98" y="193" width="0.75" height="6.4" fill="#e080b0"/>
<rect x="427.47" y="193" width="0.75" height="6.4" fill="#b0b0e0"/>
<rect x="466.02" y="193" width="0.75" height="6.4" fill="#d880c4"/>
<rect x="474.72" y="193" width="0.75" height="6.4" fill="#d880c4"/>
<rect x="484.21" y="193" width="0.75" height="6.4" fill="#a0dce4"/>
<rect x="501.61" y="193" width="0.75" height="6.4" fill="#a0dce4"/>
<rect x="511.29" y="193" width="0.75" height="6.4" fill="#80d0d0"/>
<rect x="520.19" y="193" width="0.75" height="6.4" fill="#d06890"/>
<rect x="533.04" y="193" width="0.75" height="6.4" fill="#a0d0e8"/>
<rect x="542.04" y="193" width="0.75" height="6.4" fill="#8888cc"/>
<rect x="549.85" y="193" width="0.75" height="6.4" fill="#a0a0e4"/>
<rect x="561.01" y="193" width="0.75" height="6.4" fill="#a0a0e4"/>
<rect x="569.42" y="193" width="0.75" height="6.4" fill="#a0a0e4"/>
<rect x="24.9" y="200.2" width="1.6" height="4" fill="#111"/>
<rect x="35.6" y="202.3" width="0.9" height="1.5" fill="#333"/>
<rect x="45.95" y="202.3" width="0.9" height="1.5" fill="#333"/>
<rect x="56.3" y="202.3" width="0.9" height="1.5" fill="#333"/>
<rect x="66.65" y="202.3" width="0.9" height="1.5" fill="#333"/>
<rect x="77" y="201" width="0.9" height="3.2" fill="#333"/>
<rect x="87.35" y="202.3" width="0.9" height="1.5" fill="#333"/>
<rect x="97.7" y="202.3" width="0.9" height="1.5" fill="#333"/>
<rect x="108.05" y="202.3" width="0.9" height="1.5" fill="#333"/>
<rect x="118.4" y="202.3" width="0.9" height="1.5" fill="#333"/>
<rect x="128.75" y="201" width="0.9" height="3.2" fill="#333"/>
<rect x="139.1" y="202.3" width="0.9" height="1.5" fill="#333"/>
<rect x="149.45" y="202.3" width="0.9" height="1.5" fill="#333"/>
<rect x="159.8" y="202.3" width="0.9" height="1.5" fill="#333"/>
<rect x="170.15" y="202.3" width="0.9" height="1.5" fill="#333"/>
<rect x="180.5" y="201" width="0.9" height="3.2" fill="#333"/>
<rect x="190.85" y="202.3" width="0.9" height="1.5" fill="#333"/>
<rect x="201.2" y="202.3" width="0.9" height="1.5" fill="#333"/>
<rect x="211.55" y="202.3" width="0.9" height="1.5" fill="#333"/>
<rect x="221.9" y="202.3" width="0.9" height="1.5" fill="#333"/>
<rect x="232.25" y="201" width="0.9" height="3.2" fill="#333"/>
<rect x="242.6" y="202.3" width="0.9" height="1.5" fill="#333"/>
<rect x="252.95" y="202.3" width="0.9" height="1.5" fill="#333"/>
<rect x="263.3" y="202.3" width="0.9" height="1.5" fill="#333"/>
<rect x="273.65" y="202.3" width="0.9" height="1.5" fill="#333"/>
<rect x="284" y="201" width="0.9" height="3.2" fill="#333"/>
<rect x="294.35" y="202.3" width="0.9" height="1.5" fill="#333"/>
<rect x="304.7" y="202.3" width="0.9" height="1.5" fill="#333"/>
<rect x="315.05" y="202.3" width="0.9" height="1.5" fill="#333"/>
<rect x="325.4" y="202.3" width="0.9" height="1.5" fill="#333"/>
<rect x="335.75" y="201" width="0.9" height="3.2" fill="#333"/>
<rect x="346.1" y="202.3" width="0.9" height="1.5" fill="#333"/>
<rect x="356.45" y="202.3" width="0.9" height="1.5" fill="#333"/>
<rect x="366.8" y="202.3" width="0.9" height="1.5" fill="#333"/>
<rect x="377.15" y="202.3" width="0.9" height="1.5" fill="#333"/>
<rect x="387.5" y="201" width="0.9" height="3.2" fill="#333"/>
<rect x="397.85" y="202.3" width="0.9" height="1.5" fill="#333"/>
<rect x="408.2" y="202.3" width="0.9" height="1.5" fill="#333"/>
<rect x="418.55" y="202.3" width="0.9" height="1.5" fill="#333"/>
<rect x="428.9" y="202.3" width="0.9" height="1.5" fill="#333"/>
<rect x="439.25" y="201" width="0.9" height="3.2" fill="#333"/>
<rect x="449.6" y="202.3" width="0.9" height="1.5" fill="#333"/>
<rect x="459.95" y="202.3" width="0.9" height="1.5" fill="#333"/>
<rect x="470.3" y="202.3" width="0.9" height="1.5" fill="#333"/>
<rect x="480.65" y="202.3" width="0.9" height="1.5" fill="#333"/>
<rect x="491" y="201" width="0.9" height="3.2" fill="#333"/>
<rect x="501.35" y="202.3" width="0.9" height="1.5" fill="#333"/>
<rect x="511.7" y="202.3" width="0.9" height="1.5" fill="#333"/>
<rect x="522.05" y="202.3" width="0.9" height="1.5" fill="#333"/>
<rect x="532.4" y="202.3" width="0.9" height="1.5" fill="#333"/>
<rect x="542.75" y="201" width="0.9" height="3.2" fill="#333"/>
<rect x="553.1" y="202.3" width="0.9" height="1.5" fill="#333"/>
<rect x="563.45" y="202.3" width="0.9" height="1.5" fill="#333"/>
<rect x="25.7" y="205.4" width="546.27" height="0.6" fill="#9a9a80"/>
<rect x="25.91" y="206.2" width="11.38" height="3.8" rx="0" fill="#9a9ad8"/>
<line x1="26.91" y1="208.1" x2="36.29" y2="208.1" stroke="#7a7ac0" stroke-width="1.33" stroke-dasharray="1.5 0.6"/>
<rect x="39.47" y="206.2" width="17.08" height="3.8" rx="0" fill="#9a9ad8"/>
<line x1="40.47" y1="208.1" x2="55.54" y2="208.1" stroke="#7a7ac0" stroke-width="1.33" stroke-dasharray="1.5 0.6"/>
<rect x="60.27" y="206.2" width="12.42" height="3.8" rx="0" fill="#9a9ad8"/>
<line x1="61.27" y1="208.1" x2="71.69" y2="208.1" stroke="#7a7ac0" stroke-width="1.33" stroke-dasharray="1.5 0.6"/>
<rect x="74.14" y="206.2" width="15.84" height="3.8" rx="0" fill="#9a9ad8"/>
<line x1="75.14" y1="208.1" x2="88.97" y2="208.1" stroke="#7a7ac0" stroke-width="1.33" stroke-dasharray="1.5 0.6"/>
<rect x="89.97" y="206.2" width="14.18" height="3.8" rx="0" fill="#60c0c8"/>
<rect x="108.71" y="206.2" width="50.92" height="3.8" rx="0" fill="#9a9ad8"/>
<line x1="109.71" y1="208.1" x2="158.63" y2="208.1" stroke="#7a7ac0" stroke-width="1.33" stroke-dasharray="1.5 0.6"/>
<rect x="161.91" y="206.2" width="12.73" height="3.8" rx="0" fill="#9a9ad8"/>
<line x1="162.91" y1="208.1" x2="173.64" y2="208.1" stroke="#7a7ac0" stroke-width="1.33" stroke-dasharray="1.5 0.6"/>
<rect x="179.09" y="206.2" width="8.38" height="3.8" rx="0" fill="#9a9ad8"/>
<line x1="180.09" y1="208.1" x2="186.47" y2="208.1" stroke="#7a7ac0" stroke-width="1.33" stroke-dasharray="1.5 0.6"/>
<rect x="190.47" y="206.2" width="19.77" height="3.8" rx="0" fill="#9a9ad8"/>
<line x1="191.47" y1="208.1" x2="209.24" y2="208.1" stroke="#7a7ac0" stroke-width="1.33" stroke-dasharray="1.5 0.6"/>
<rect x="213.24" y="206.2" width="37.67" height="3.8" rx="0" fill="#9a9ad8"/>
<line x1="214.24" y1="208.1" x2="249.92" y2="208.1" stroke="#7a7ac0" stroke-width="1.33" stroke-dasharray="1.5 0.6"/>
<rect x="252.36" y="206.2" width="36.23" height="3.8" rx="0" fill="#9a9ad8"/>
<line x1="253.36" y1="208.1" x2="287.59" y2="208.1" stroke="#7a7ac0" stroke-width="1.33" stroke-dasharray="1.5 0.6"/>
<rect x="289.42" y="206.2" width="5.9" height="3.8" rx="0" fill="#7090d8"/>
<rect x="298.32" y="206.2" width="9.73" height="3.8" rx="0" fill="#e0b060"/>
<rect x="310.32" y="206.2" width="13.46" height="3.8" rx="0" fill="#c0389a"/>
<rect x="325.85" y="206.2" width="12.42" height="3.8" rx="0" fill="#c0389a"/>
<rect x="342" y="206.2" width="7.56" height="3.8" rx="0" fill="#60c0c8"/>
<rect x="360.83" y="206.2" width="39.64" height="3.8" rx="0" fill="#e0b060"/>
<rect x="401.51" y="206.2" width="21.94" height="3.8" rx="0" fill="#c0389a"/>
<rect x="424.28" y="206.2" width="33.02" height="3.8" rx="0" fill="#9a9ad8"/>
<line x1="425.28" y1="208.1" x2="456.3" y2="208.1" stroke="#7a7ac0" stroke-width="1.33" stroke-dasharray="1.5 0.6"/>
<rect x="462.78" y="206.2" width="16.56" height="3.8" rx="0" fill="#c0389a"/>
<rect x="480.79" y="206.2" width="8.28" height="3.8" rx="0" fill="#60c0c8"/>
<rect x="498.9" y="206.2" width="6.83" height="3.8" rx="0" fill="#60c0c8"/>
<rect x="508.73" y="206.2" width="5.28" height="3.8" rx="0" fill="#60c0c8"/>
<rect x="516.29" y="206.2" width="9.11" height="3.8" rx="0" fill="#c0306a"/>
<rect x="529.75" y="206.2" width="7.45" height="3.8" rx="0" fill="#60c0c8"/>
<rect x="544.44" y="206.2" width="21.01" height="3.8" rx="0" fill="#9a9ad8"/>
<line x1="545.44" y1="208.1" x2="564.45" y2="208.1" stroke="#7a7ac0" stroke-width="1.33" stroke-dasharray="1.5 0.6"/>
<rect x="568.35" y="206.2" width="3.31" height="3.8" rx="0" fill="#9a9ad8"/>
<line x1="569.35" y1="208.1" x2="570.66" y2="208.1" stroke="#7a7ac0" stroke-width="1.33" stroke-dasharray="1.5 0.6"/>
<rect x="25.7" y="211.1" width="546.27" height="2.5" fill="#8c8c8c"/>
<rect x="25.7" y="214.3" width="264.03" height="3.04" fill="#0e0e74"/>
<rect x="25.7" y="217.34" width="264.03" height="0.55" fill="#7a7ab2"/>
<rect x="303.8" y="214.3" width="80.01" height="3.04" fill="#0e0e74"/>
<rect x="303.8" y="217.34" width="80.01" height="0.55" fill="#7a7ab2"/>
<rect x="497.97" y="214.3" width="8.69" height="3.04" fill="#0e0e74"/>
<rect x="497.97" y="217.34" width="8.69" height="0.55" fill="#7a7ab2"/>
<rect x="529.43" y="214.3" width="42.54" height="3.04" fill="#0e0e74"/>
<rect x="529.43" y="217.34" width="42.54" height="0.55" fill="#7a7ab2"/>
<rect x="25.7" y="217.89" width="546.27" height="1.01" fill="#8a8a8a"/>
<rect x="25.7" y="218.9" width="264.03" height="3.04" fill="#b35c90"/>
<rect x="25.7" y="221.94" width="264.03" height="0.55" fill="#d5a5c1"/>
<rect x="303.8" y="218.9" width="80.01" height="3.04" fill="#b35c90"/>
<rect x="303.8" y="221.94" width="80.01" height="0.55" fill="#d5a5c1"/>
<rect x="497.97" y="218.9" width="8.69" height="3.04" fill="#b35c90"/>
<rect x="497.97" y="221.94" width="8.69" height="0.55" fill="#d5a5c1"/>
<rect x="529.43" y="218.9" width="42.54" height="3.04" fill="#b35c90"/>
<rect x="529.43" y="221.94" width="42.54" height="0.55" fill="#d5a5c1"/>
<rect x="25.7" y="222.49" width="546.27" height="1.01" fill="#8a8a8a"/>
<rect x="25.7" y="223.5" width="264.03" height="3.04" fill="#811c36"/>
<rect x="25.7" y="226.54" width="264.03" height="0.55" fill="#b98290"/>
<rect x="303.8" y="223.5" width="80.01" height="3.04" fill="#811c36"/>
<rect x="303.8" y="226.54" width="80.01" height="0.55" fill="#b98290"/>
<rect x="497.97" y="223.5" width="8.69" height="3.04" fill="#811c36"/>
<rect x="497.97" y="226.54" width="8.69" height="0.55" fill="#b98290"/>
<rect x="529.43" y="223.5" width="42.54" height="3.04" fill="#811c36"/>
<rect x="529.43" y="226.54" width="42.54" height="0.55" fill="#b98290"/>
<rect x="25.7" y="227.09" width="546.27" height="1.01" fill="#8a8a8a"/>
<rect x="25.7" y="228.1" width="264.03" height="3.04" fill="#6f3a96"/>
<rect x="25.7" y="231.14" width="264.03" height="0.55" fill="#af92c5"/>
<rect x="303.8" y="228.1" width="80.01" height="3.04" fill="#6f3a96"/>
<rect x="303.8" y="231.14" width="80.01" height="0.55" fill="#af92c5"/>
<rect x="497.97" y="228.1" width="8.69" height="3.04" fill="#6f3a96"/>
<rect x="497.97" y="231.14" width="8.69" height="0.55" fill="#af92c5"/>
<rect x="529.43" y="228.1" width="42.54" height="3.04" fill="#6f3a96"/>
<rect x="529.43" y="231.14" width="42.54" height="0.55" fill="#af92c5"/>
<rect x="25.7" y="231.69" width="546.27" height="1.01" fill="#8a8a8a"/>
<rect x="25.7" y="232.7" width="264.03" height="3.04" fill="#acda87"/>
<rect x="25.7" y="235.74" width="264.03" height="0.55" fill="#d1eabd"/>
<rect x="303.8" y="232.7" width="80.01" height="3.04" fill="#acda87"/>
<rect x="303.8" y="235.74" width="80.01" height="0.55" fill="#d1eabd"/>
<rect x="497.97" y="232.7" width="8.69" height="3.04" fill="#acda87"/>
<rect x="497.97" y="235.74" width="8.69" height="0.55" fill="#d1eabd"/>
<rect x="529.43" y="232.7" width="42.54" height="3.04" fill="#acda87"/>
<rect x="529.43" y="235.74" width="42.54" height="0.55" fill="#d1eabd"/>
<rect x="25.7" y="236.29" width="546.27" height="1.01" fill="#8a8a8a"/>
<rect x="25.7" y="237.3" width="264.03" height="3.04" fill="#468585"/>
<rect x="25.7" y="240.34" width="264.03" height="0.55" fill="#99bbbb"/>
<rect x="303.8" y="237.3" width="80.01" height="3.04" fill="#468585"/>
<rect x="303.8" y="240.34" width="80.01" height="0.55" fill="#99bbbb"/>
<rect x="497.97" y="237.3" width="8.69" height="3.04" fill="#468585"/>
<rect x="497.97" y="240.34" width="8.69" height="0.55" fill="#99bbbb"/>
<rect x="529.43" y="237.3" width="42.54" height="3.04" fill="#468585"/>
<rect x="529.43" y="240.34" width="42.54" height="0.55" fill="#99bbbb"/>
<rect x="25.7" y="240.89" width="546.27" height="1.01" fill="#8a8a8a"/>
<rect x="25.7" y="241.9" width="264.03" height="3.04" fill="#9a9aa5"/>
<rect x="25.7" y="244.94" width="264.03" height="0.55" fill="#c7c7cd"/>
<rect x="303.8" y="241.9" width="80.01" height="3.04" fill="#9a9aa5"/>
<rect x="303.8" y="244.94" width="80.01" height="0.55" fill="#c7c7cd"/>
<rect x="497.97" y="241.9" width="8.69" height="3.04" fill="#9a9aa5"/>
<rect x="497.97" y="244.94" width="8.69" height="0.55" fill="#c7c7cd"/>
<rect x="529.43" y="241.9" width="42.54" height="3.04" fill="#9a9aa5"/>
<rect x="529.43" y="244.94" width="42.54" height="0.55" fill="#c7c7cd"/>
<rect x="25.7" y="245.49" width="546.27" height="1.01" fill="#8a8a8a"/>
<rect x="25.7" y="246.5" width="264.03" height="3.04" fill="#a9a9d7"/>
<rect x="25.7" y="249.54" width="264.03" height="0.55" fill="#cfcfe9"/>
<rect x="303.8" y="246.5" width="80.01" height="3.04" fill="#a9a9d7"/>
<rect x="303.8" y="249.54" width="80.01" height="0.55" fill="#cfcfe9"/>
<rect x="497.97" y="246.5" width="74" height="3.04" fill="#a9a9d7"/>
<rect x="497.97" y="249.54" width="74" height="0.55" fill="#cfcfe9"/>
<rect x="25.7" y="250.09" width="546.27" height="1.01" fill="#8a8a8a"/>
<rect x="25.7" y="251.1" width="270.55" height="3.04" fill="#dec65b"/>
<rect x="25.7" y="254.14" width="270.55" height="0.55" fill="#ecdfa4"/>
<rect x="342.31" y="251.1" width="6.21" height="3.04" fill="#dec65b"/>
<rect x="342.31" y="254.14" width="6.21" height="0.55" fill="#ecdfa4"/>
<rect x="497.97" y="251.1" width="8.69" height="3.04" fill="#dec65b"/>
<rect x="497.97" y="254.14" width="8.69" height="0.55" fill="#ecdfa4"/>
<rect x="529.43" y="251.1" width="7.24" height="3.04" fill="#dec65b"/>
<rect x="529.43" y="254.14" width="7.24" height="0.55" fill="#ecdfa4"/>
<rect x="542.16" y="251.1" width="1.35" height="3.04" fill="#dec65b"/>
<rect x="542.16" y="254.14" width="1.35" height="0.55" fill="#ecdfa4"/>
<rect x="25.7" y="254.69" width="546.27" height="1.01" fill="#8a8a8a"/>
<rect x="25.7" y="255.7" width="270.55" height="3.04" fill="#cf664b"/>
<rect x="25.7" y="258.74" width="270.55" height="0.55" fill="#e4aa9c"/>
<rect x="342.31" y="255.7" width="6.21" height="3.04" fill="#cf664b"/>
<rect x="342.31" y="258.74" width="6.21" height="0.55" fill="#e4aa9c"/>
<rect x="497.97" y="255.7" width="8.69" height="3.04" fill="#cf664b"/>
<rect x="497.97" y="258.74" width="8.69" height="0.55" fill="#e4aa9c"/>
<rect x="529.43" y="255.7" width="7.24" height="3.04" fill="#cf664b"/>
<rect x="529.43" y="258.74" width="7.24" height="0.55" fill="#e4aa9c"/>
<rect x="542.16" y="255.7" width="1.35" height="3.04" fill="#cf664b"/>
<rect x="542.16" y="258.74" width="1.35" height="0.55" fill="#e4aa9c"/>
<rect x="25.7" y="259.29" width="546.27" height="1.01" fill="#8a8a8a"/>
<defs><linearGradient id="sg683" gradientUnits="userSpaceOnUse" x1="86.35" y1="0" x2="107.78" y2="0"><stop offset="0" stop-color="#601040" stop-opacity="0"/><stop offset="0.3" stop-color="#601040" stop-opacity="0.1"/><stop offset="0.7" stop-color="#601040" stop-opacity="0.1"/><stop offset="1" stop-color="#601040" stop-opacity="0"/></linearGradient></defs>
<rect x="86.35" y="214.3" width="21.42" height="3.77" fill="url(#sg683)"/>
<rect x="86.35" y="218.9" width="21.42" height="3.77" fill="url(#sg683)"/>
<rect x="86.35" y="223.5" width="21.42" height="3.77" fill="url(#sg683)"/>
<rect x="86.35" y="228.1" width="21.42" height="3.77" fill="url(#sg683)"/>
<rect x="86.35" y="232.7" width="21.42" height="3.77" fill="url(#sg683)"/>
<rect x="86.35" y="237.3" width="21.42" height="3.77" fill="url(#sg683)"/>
<rect x="86.35" y="241.9" width="21.42" height="3.77" fill="url(#sg683)"/>
<rect x="86.35" y="246.5" width="21.42" height="3.77" fill="url(#sg683)"/>
<rect x="86.35" y="251.1" width="21.42" height="3.77" fill="url(#sg683)"/>
<rect x="86.35" y="255.7" width="21.42" height="3.77" fill="url(#sg683)"/>
<defs><linearGradient id="sg694" gradientUnits="userSpaceOnUse" x1="338.37" y1="0" x2="353.17" y2="0"><stop offset="0" stop-color="#601040" stop-opacity="0"/><stop offset="0.3" stop-color="#601040" stop-opacity="0.08"/><stop offset="0.7" stop-color="#601040" stop-opacity="0.08"/><stop offset="1" stop-color="#601040" stop-opacity="0"/></linearGradient></defs>
<rect x="338.37" y="214.3" width="14.8" height="3.77" fill="url(#sg694)"/>
<rect x="338.37" y="218.9" width="14.8" height="3.77" fill="url(#sg694)"/>
<rect x="338.37" y="223.5" width="14.8" height="3.77" fill="url(#sg694)"/>
<rect x="338.37" y="228.1" width="14.8" height="3.77" fill="url(#sg694)"/>
<rect x="338.37" y="232.7" width="14.8" height="3.77" fill="url(#sg694)"/>
<rect x="338.37" y="237.3" width="14.8" height="3.77" fill="url(#sg694)"/>
<rect x="338.37" y="241.9" width="14.8" height="3.77" fill="url(#sg694)"/>
<rect x="338.37" y="246.5" width="14.8" height="3.77" fill="url(#sg694)"/>
<rect x="342.31" y="251.1" width="6.21" height="3.77" fill="url(#sg694)"/>
<rect x="342.31" y="255.7" width="6.21" height="3.77" fill="url(#sg694)"/>
<defs><linearGradient id="sg705" gradientUnits="userSpaceOnUse" x1="526.12" y1="0" x2="540.82" y2="0"><stop offset="0" stop-color="#601040" stop-opacity="0"/><stop offset="0.3" stop-color="#601040" stop-opacity="0.05"/><stop offset="0.7" stop-color="#601040" stop-opacity="0.05"/><stop offset="1" stop-color="#601040" stop-opacity="0"/></linearGradient></defs>
<rect x="529.43" y="214.3" width="11.39" height="3.77" fill="url(#sg705)"/>
<rect x="529.43" y="218.9" width="11.39" height="3.77" fill="url(#sg705)"/>
<rect x="529.43" y="223.5" width="11.39" height="3.77" fill="url(#sg705)"/>
<rect x="529.43" y="228.1" width="11.39" height="3.77" fill="url(#sg705)"/>
<rect x="529.43" y="232.7" width="11.39" height="3.77" fill="url(#sg705)"/>
<rect x="529.43" y="237.3" width="11.39" height="3.77" fill="url(#sg705)"/>
<rect x="529.43" y="241.9" width="11.39" height="3.77" fill="url(#sg705)"/>
<rect x="526.12" y="246.5" width="14.7" height="3.77" fill="url(#sg705)"/>
<rect x="529.43" y="251.1" width="7.24" height="3.77" fill="url(#sg705)"/>
<rect x="529.43" y="255.7" width="7.24" height="3.77" fill="url(#sg705)"/>
<rect x="24.9" y="261.6" width="1.6" height="4" fill="#111"/>
<rect x="35.6" y="262.3" width="0.9" height="1.6" fill="#333"/>
<rect x="45.95" y="262.3" width="0.9" height="1.6" fill="#333"/>
<rect x="56.3" y="262.3" width="0.9" height="1.6" fill="#333"/>
<rect x="66.65" y="262.3" width="0.9" height="1.6" fill="#333"/>
<rect x="77" y="261.6" width="0.9" height="3.4" fill="#333"/>
<text x="77.95" y="275" class="kb" text-anchor="middle">5 kbp</text>
<rect x="87.35" y="262.3" width="0.9" height="1.6" fill="#333"/>
<rect x="97.7" y="262.3" width="0.9" height="1.6" fill="#333"/>
<rect x="108.05" y="262.3" width="0.9" height="1.6" fill="#333"/>
<rect x="118.4" y="262.3" width="0.9" height="1.6" fill="#333"/>
<rect x="128.75" y="261.6" width="0.9" height="3.4" fill="#333"/>
<text x="129.7" y="275" class="kb" text-anchor="middle">10 kbp</text>
<rect x="139.1" y="262.3" width="0.9" height="1.6" fill="#333"/>
<rect x="149.45" y="262.3" width="0.9" height="1.6" fill="#333"/>
<rect x="159.8" y="262.3" width="0.9" height="1.6" fill="#333"/>
<rect x="170.15" y="262.3" width="0.9" height="1.6" fill="#333"/>
<rect x="180.5" y="261.6" width="0.9" height="3.4" fill="#333"/>
<text x="181.45" y="275" class="kb" text-anchor="middle">15 kbp</text>
<rect x="190.85" y="262.3" width="0.9" height="1.6" fill="#333"/>
<rect x="201.2" y="262.3" width="0.9" height="1.6" fill="#333"/>
<rect x="211.55" y="262.3" width="0.9" height="1.6" fill="#333"/>
<rect x="221.9" y="262.3" width="0.9" height="1.6" fill="#333"/>
<rect x="232.25" y="261.6" width="0.9" height="3.4" fill="#333"/>
<text x="233.2" y="275" class="kb" text-anchor="middle">20 kbp</text>
<rect x="242.6" y="262.3" width="0.9" height="1.6" fill="#333"/>
<rect x="252.95" y="262.3" width="0.9" height="1.6" fill="#333"/>
<rect x="263.3" y="262.3" width="0.9" height="1.6" fill="#333"/>
<rect x="273.65" y="262.3" width="0.9" height="1.6" fill="#333"/>
<rect x="284" y="261.6" width="0.9" height="3.4" fill="#333"/>
<text x="284.95" y="275" class="kb" text-anchor="middle">25 kbp</text>
<rect x="294.35" y="262.3" width="0.9" height="1.6" fill="#333"/>
<rect x="304.7" y="262.3" width="0.9" height="1.6" fill="#333"/>
<rect x="315.05" y="262.3" width="0.9" height="1.6" fill="#333"/>
<rect x="325.4" y="262.3" width="0.9" height="1.6" fill="#333"/>
<rect x="335.75" y="261.6" width="0.9" height="3.4" fill="#333"/>
<text x="336.7" y="275" class="kb" text-anchor="middle">30 kbp</text>
<rect x="346.1" y="262.3" width="0.9" height="1.6" fill="#333"/>
<rect x="356.45" y="262.3" width="0.9" height="1.6" fill="#333"/>
<rect x="366.8" y="262.3" width="0.9" height="1.6" fill="#333"/>
<rect x="377.15" y="262.3" width="0.9" height="1.6" fill="#333"/>
<rect x="387.5" y="261.6" width="0.9" height="3.4" fill="#333"/>
<text x="388.45" y="275" class="kb" text-anchor="middle">35 kbp</text>
<rect x="397.85" y="262.3" width="0.9" height="1.6" fill="#333"/>
<rect x="408.2" y="262.3" width="0.9" height="1.6" fill="#333"/>
<rect x="418.55" y="262.3" width="0.9" height="1.6" fill="#333"/>
<rect x="428.9" y="262.3" width="0.9" height="1.6" fill="#333"/>
<rect x="439.25" y="261.6" width="0.9" height="3.4" fill="#333"/>
<text x="440.2" y="275" class="kb" text-anchor="middle">40 kbp</text>
<rect x="449.6" y="262.3" width="0.9" height="1.6" fill="#333"/>
<rect x="459.95" y="262.3" width="0.9" height="1.6" fill="#333"/>
<rect x="470.3" y="262.3" width="0.9" height="1.6" fill="#333"/>
<rect x="480.65" y="262.3" width="0.9" height="1.6" fill="#333"/>
<rect x="491" y="261.6" width="0.9" height="3.4" fill="#333"/>
<text x="491.95" y="275" class="kb" text-anchor="middle">45 kbp</text>
<rect x="501.35" y="262.3" width="0.9" height="1.6" fill="#333"/>
<rect x="511.7" y="262.3" width="0.9" height="1.6" fill="#333"/>
<rect x="522.05" y="262.3" width="0.9" height="1.6" fill="#333"/>
<rect x="532.4" y="262.3" width="0.9" height="1.6" fill="#333"/>
<rect x="542.75" y="261.6" width="0.9" height="3.4" fill="#333"/>
<text x="543.7" y="275" class="kb" text-anchor="middle">50 kbp</text>
<rect x="553.1" y="262.3" width="0.9" height="1.6" fill="#333"/>
<rect x="563.45" y="262.3" width="0.9" height="1.6" fill="#333"/>
<rect x="592.9" y="157.1" width="7.3" height="7.2" fill="#101080"/>
<text x="602.4" y="163.6" class="lg">NZ_CP089788.1</text>
<rect x="592.9" y="168.17" width="7.3" height="7.2" fill="#c04890"/>
<text x="602.4" y="174.67" class="lg">NZ_CP089789.1</text>
<rect x="592.9" y="179.24" width="7.3" height="7.2" fill="#901030"/>
<text x="602.4" y="185.74" class="lg">NZ_CP089794.1</text>
<rect x="592.9" y="190.31" width="7.3" height="7.2" fill="#7030a0"/>
<text x="602.4" y="196.81" class="lg">NZ_CP089798.1</text>
<rect x="592.9" y="201.38" width="7.3" height="7.2" fill="#a0e070"/>
<text x="602.4" y="207.88" class="lg">NZ_CP089790.1</text>
<rect x="592.9" y="212.45" width="7.3" height="7.2" fill="#3a8090"/>
<text x="602.4" y="218.95" class="lg">NZ_CP089792.1</text>
<rect x="592.9" y="223.52" width="7.3" height="7.2" fill="#9090a0"/>
<text x="602.4" y="230.02" class="lg">NZ_CP089799.1</text>
<rect x="592.9" y="234.59" width="7.3" height="7.2" fill="#a0a0e0"/>
<text x="602.4" y="241.09" class="lg">NZ_CP089795.1</text>
<rect x="592.9" y="245.66" width="7.3" height="7.2" fill="#e0c040"/>
<text x="602.4" y="252.16" class="lg">NZ_CP089791.1</text>
<rect x="592.9" y="256.73" width="7.3" height="7.2" fill="#e05030"/>
<text x="602.4" y="263.23" class="lg">NZ_CP089797.1</text>
<text x="-0.3" y="331.7" class="pl">(c)</text>
<text transform="translate(32.31 344.3) rotate(-90) scale(0.97 1)" class="gl" style="font-size:7.1px">mmmEΔ</text>
<text transform="translate(45.6 344.3) rotate(-90) scale(0.97 1)" class="gl" style="font-size:7.1px">int</text>
<text transform="translate(55.35 344.3) rotate(-90) scale(0.97 1)" class="gl" style="font-size:7.1px">S002</text>
<text transform="translate(64.31 344.3) rotate(-90) scale(0.97 1)" class="gl" style="font-size:7.1px">repA</text>
<text transform="translate(72.08 344.3) rotate(-90) scale(0.97 1)" class="gl" style="font-size:7.1px">S004Δ</text>
<text transform="translate(83.22 344.3) rotate(-90) scale(0.97 1)" class="gl" style="font-size:7.1px">traN</text>
<text transform="translate(96.01 344.3) rotate(-90) scale(0.97 1)" class="gl" style="font-size:7.1px">IS1359</text>
<text transform="translate(126.34 344.3) rotate(-90) scale(0.97 1)" class="gl" style="font-size:7.1px">S009Δ</text>
<text transform="translate(150.86 344.3) rotate(-90) scale(0.97 1)" class="gl" style="font-size:7.1px">traG</text>
<text transform="translate(164.36 344.3) rotate(-90) scale(0.97 1)" class="gl" style="font-size:7.1px">traH</text>
<text transform="translate(172.04 344.3) rotate(-90) scale(0.97 1)" class="gl" style="font-size:7.1px">S013</text>
<text transform="translate(282.91 344.3) rotate(-90) scale(0.97 1)" class="gl" style="font-size:7.1px">S026</text>
<text transform="translate(290.98 344.3) rotate(-90) scale(0.97 1)" class="gl" style="font-size:7.1px">nucG</text>
<text transform="translate(301.04 344.3) rotate(-90) scale(0.97 1)" class="gl" style="font-size:7.1px">hsdI</text>
<text transform="translate(309.89 344.3) rotate(-90) scale(0.97 1)" class="gl" style="font-size:7.1px">aac(3)-Id</text>
<text transform="translate(317.68 344.3) rotate(-90) scale(0.97 1)" class="gl" style="font-size:7.1px">aadA</text>
<text transform="translate(325.65 344.3) rotate(-90) scale(0.97 1)" class="gl" style="font-size:7.1px">qacEΔ</text>
<text transform="translate(331.07 344.3) rotate(-90) scale(0.97 1)" class="gl" style="font-size:7.1px">sul1</text>
<text transform="translate(342.98 344.3) rotate(-90) scale(0.97 1)" class="gl" style="font-size:7.1px">IS6100</text>
<text transform="translate(405.31 344.3) rotate(-90) scale(0.97 1)" class="gl" style="font-size:7.1px">tetR(A)</text>
<text transform="translate(414.67 344.3) rotate(-90) scale(0.97 1)" class="gl" style="font-size:7.1px">tetA(A)</text>
<text transform="translate(426.68 344.3) rotate(-90) scale(0.97 1)" class="gl" style="font-size:7.1px">pecM</text>
<text transform="translate(465.09 344.3) rotate(-90) scale(0.97 1)" class="gl" style="font-size:7.1px">strB</text>
<text transform="translate(472.97 344.3) rotate(-90) scale(0.97 1)" class="gl" style="font-size:7.1px">strA</text>
<text transform="translate(481.53 344.3) rotate(-90) scale(0.97 1)" class="gl" style="font-size:7.1px">tnpA1133</text>
<text transform="translate(498.87 344.3) rotate(-90) scale(0.97 1)" class="gl" style="font-size:7.1px">tnpA</text>
<text transform="translate(509.01 344.3) rotate(-90) scale(0.97 1)" class="gl" style="font-size:7.1px">IS26C</text>
<text transform="translate(518.17 344.3) rotate(-90) scale(0.97 1)" class="gl" style="font-size:7.1px">Bla<tspan font-size="5.4" dy="0.8">TEM-a</tspan></text>
<text transform="translate(530.28 344.3) rotate(-90) scale(0.97 1)" class="gl" style="font-size:7.1px">IS26C</text>
<text transform="translate(538.55 344.3) rotate(-90) scale(0.97 1)" class="gl" style="font-size:7.1px">S044Δ</text>
<text transform="translate(546.92 344.3) rotate(-90) scale(0.97 1)" class="gl" style="font-size:7.1px">yddY</text>
<text transform="translate(558.63 344.3) rotate(-90) scale(0.97 1)" class="gl" style="font-size:7.1px">yddZ</text>
<text transform="translate(566.12 344.3) rotate(-90) scale(0.97 1)" class="gl" style="font-size:7.1px">yddE</text>
<rect x="181.85" y="337.8" width="14.95" height="1.8" fill="#000"/>
<rect x="255.26" y="337.8" width="14.02" height="1.8" fill="#000"/>
<text transform="translate(227.83 340.6) scale(0.9 1)" class="gl" text-anchor="middle">S014-S025</text>
<text x="372.79" y="334.5" class="gl" text-anchor="middle" style="font-size:5.8px">mer</text>
<text x="370.42" y="341.5" class="gl" text-anchor="middle" style="font-size:6.6px" textLength="27.01" lengthAdjust="spacingAndGlyphs">EDACPTR</text>
<rect x="29.53" y="352" width="0.75" height="11.8" fill="#a0a0e4"/>
<rect x="43.81" y="352" width="0.75" height="11.8" fill="#a0a0e4"/>
<rect x="51.89" y="352" width="0.75" height="11.8" fill="#a0a0e4"/>
<rect x="62.23" y="352" width="0.75" height="11.8" fill="#a0a0e4"/>
<rect x="68.33" y="352" width="0.75" height="11.8" fill="#a0a0e4"/>
<rect x="79.95" y="352" width="0.75" height="11.8" fill="#a0a0e4"/>
<rect x="95.12" y="352" width="0.75" height="11.8" fill="#a0dce4"/>
<rect x="123.78" y="352" width="0.75" height="11.8" fill="#a0a0e4"/>
<rect x="148.78" y="352" width="0.75" height="11.8" fill="#a0a0e4"/>
<rect x="163.25" y="352" width="0.75" height="11.8" fill="#a0a0e4"/>
<rect x="169.76" y="352" width="0.75" height="11.8" fill="#a0a0e4"/>
<rect x="177.56" y="352" width="0.75" height="11.8" fill="#a0a0e4"/>
<rect x="180.14" y="352" width="0.75" height="11.8" fill="#a0a0e4"/>
<rect x="181.48" y="352" width="0.75" height="11.8" fill="#a0a0e4"/>
<rect x="183.34" y="352" width="0.75" height="11.8" fill="#a0a0e4"/>
<rect x="188.7" y="352" width="0.75" height="11.8" fill="#a0a0e4"/>
<rect x="195.61" y="352" width="0.75" height="11.8" fill="#a0a0e4"/>
<rect x="203.24" y="352" width="0.75" height="11.8" fill="#a0a0e4"/>
<rect x="205.4" y="352" width="0.75" height="11.8" fill="#a0a0e4"/>
<rect x="218.91" y="352" width="0.75" height="11.8" fill="#a0a0e4"/>
<rect x="237.77" y="352" width="0.75" height="11.8" fill="#a0a0e4"/>
<rect x="261.18" y="352" width="0.75" height="11.8" fill="#a0a0e4"/>
<rect x="280.24" y="352" width="0.75" height="11.8" fill="#8080d0"/>
<rect x="288.91" y="352" width="0.75" height="11.8" fill="#a0a0e4"/>
<rect x="299.65" y="352" width="0.75" height="11.8" fill="#e8d0a0"/>
<rect x="309.19" y="352" width="0.75" height="11.8" fill="#d880c4"/>
<rect x="316.39" y="352" width="0.75" height="11.8" fill="#d06890"/>
<rect x="324.16" y="352" width="0.75" height="11.8" fill="#d880c4"/>
<rect x="330.37" y="352" width="0.75" height="11.8" fill="#d06890"/>
<rect x="342.58" y="352" width="0.75" height="11.8" fill="#a0dce4"/>
<rect x="357.68" y="352" width="0.75" height="11.8" fill="#ecc88c"/>
<rect x="360.46" y="352" width="0.75" height="11.8" fill="#ecc88c"/>
<rect x="371.91" y="352" width="0.75" height="11.8" fill="#ecc88c"/>
<rect x="383.25" y="352" width="0.75" height="11.8" fill="#ecc88c"/>
<rect x="386.86" y="352" width="0.75" height="11.8" fill="#ecc88c"/>
<rect x="390.78" y="352" width="0.75" height="11.8" fill="#ecc88c"/>
<rect x="395.31" y="352" width="0.75" height="11.8" fill="#ecc88c"/>
<rect x="403.53" y="352" width="0.75" height="11.8" fill="#d880c4"/>
<rect x="413.57" y="352" width="0.75" height="11.8" fill="#e080b0"/>
<rect x="424.01" y="352" width="0.75" height="11.8" fill="#b0b0e0"/>
<rect x="462.42" y="352" width="0.75" height="11.8" fill="#d880c4"/>
<rect x="471.08" y="352" width="0.75" height="11.8" fill="#d880c4"/>
<rect x="480.53" y="352" width="0.75" height="11.8" fill="#a0dce4"/>
<rect x="497.87" y="352" width="0.75" height="11.8" fill="#a0dce4"/>
<rect x="507.52" y="352" width="0.75" height="11.8" fill="#80d0d0"/>
<rect x="516.38" y="352" width="0.75" height="11.8" fill="#d06890"/>
<rect x="529.18" y="352" width="0.75" height="11.8" fill="#a0d0e8"/>
<rect x="538.15" y="352" width="0.75" height="11.8" fill="#8888cc"/>
<rect x="545.92" y="352" width="0.75" height="11.8" fill="#a0a0e4"/>
<rect x="557.04" y="352" width="0.75" height="11.8" fill="#a0a0e4"/>
<rect x="565.42" y="352" width="0.75" height="11.8" fill="#a0a0e4"/>
<rect x="23" y="364.8" width="1.6" height="4" fill="#111"/>
<rect x="33.66" y="366.9" width="0.9" height="1.5" fill="#333"/>
<rect x="43.97" y="366.9" width="0.9" height="1.5" fill="#333"/>
<rect x="54.28" y="366.9" width="0.9" height="1.5" fill="#333"/>
<rect x="64.59" y="366.9" width="0.9" height="1.5" fill="#333"/>
<rect x="74.9" y="365.6" width="0.9" height="3.2" fill="#333"/>
<rect x="85.21" y="366.9" width="0.9" height="1.5" fill="#333"/>
<rect x="95.52" y="366.9" width="0.9" height="1.5" fill="#333"/>
<rect x="105.83" y="366.9" width="0.9" height="1.5" fill="#333"/>
<rect x="116.14" y="366.9" width="0.9" height="1.5" fill="#333"/>
<rect x="126.45" y="365.6" width="0.9" height="3.2" fill="#333"/>
<rect x="136.76" y="366.9" width="0.9" height="1.5" fill="#333"/>
<rect x="147.07" y="366.9" width="0.9" height="1.5" fill="#333"/>
<rect x="157.38" y="366.9" width="0.9" height="1.5" fill="#333"/>
<rect x="167.69" y="366.9" width="0.9" height="1.5" fill="#333"/>
<rect x="178" y="365.6" width="0.9" height="3.2" fill="#333"/>
<rect x="188.31" y="366.9" width="0.9" height="1.5" fill="#333"/>
<rect x="198.62" y="366.9" width="0.9" height="1.5" fill="#333"/>
<rect x="208.93" y="366.9" width="0.9" height="1.5" fill="#333"/>
<rect x="219.24" y="366.9" width="0.9" height="1.5" fill="#333"/>
<rect x="229.55" y="365.6" width="0.9" height="3.2" fill="#333"/>
<rect x="239.86" y="366.9" width="0.9" height="1.5" fill="#333"/>
<rect x="250.17" y="366.9" width="0.9" height="1.5" fill="#333"/>
<rect x="260.48" y="366.9" width="0.9" height="1.5" fill="#333"/>
<rect x="270.79" y="366.9" width="0.9" height="1.5" fill="#333"/>
<rect x="281.1" y="365.6" width="0.9" height="3.2" fill="#333"/>
<rect x="291.41" y="366.9" width="0.9" height="1.5" fill="#333"/>
<rect x="301.72" y="366.9" width="0.9" height="1.5" fill="#333"/>
<rect x="312.03" y="366.9" width="0.9" height="1.5" fill="#333"/>
<rect x="322.34" y="366.9" width="0.9" height="1.5" fill="#333"/>
<rect x="332.65" y="365.6" width="0.9" height="3.2" fill="#333"/>
<rect x="342.96" y="366.9" width="0.9" height="1.5" fill="#333"/>
<rect x="353.27" y="366.9" width="0.9" height="1.5" fill="#333"/>
<rect x="363.58" y="366.9" width="0.9" height="1.5" fill="#333"/>
<rect x="373.89" y="366.9" width="0.9" height="1.5" fill="#333"/>
<rect x="384.2" y="365.6" width="0.9" height="3.2" fill="#333"/>
<rect x="394.51" y="366.9" width="0.9" height="1.5" fill="#333"/>
<rect x="404.82" y="366.9" width="0.9" height="1.5" fill="#333"/>
<rect x="415.13" y="366.9" width="0.9" height="1.5" fill="#333"/>
<rect x="425.44" y="366.9" width="0.9" height="1.5" fill="#333"/>
<rect x="435.75" y="365.6" width="0.9" height="3.2" fill="#333"/>
<rect x="446.06" y="366.9" width="0.9" height="1.5" fill="#333"/>
<rect x="456.37" y="366.9" width="0.9" height="1.5" fill="#333"/>
<rect x="466.68" y="366.9" width="0.9" height="1.5" fill="#333"/>
<rect x="476.99" y="366.9" width="0.9" height="1.5" fill="#333"/>
<rect x="487.3" y="365.6" width="0.9" height="3.2" fill="#333"/>
<rect x="497.61" y="366.9" width="0.9" height="1.5" fill="#333"/>
<rect x="507.92" y="366.9" width="0.9" height="1.5" fill="#333"/>
<rect x="518.23" y="366.9" width="0.9" height="1.5" fill="#333"/>
<rect x="528.54" y="366.9" width="0.9" height="1.5" fill="#333"/>
<rect x="538.85" y="365.6" width="0.9" height="3.2" fill="#333"/>
<rect x="549.16" y="366.9" width="0.9" height="1.5" fill="#333"/>
<rect x="559.47" y="366.9" width="0.9" height="1.5" fill="#333"/>
<rect x="23.8" y="370.4" width="544.16" height="0.6" fill="#9a9a80"/>
<rect x="24.01" y="371.1" width="11.34" height="5.9" rx="1.0" fill="#8686e8"/>
<line x1="25.01" y1="374.05" x2="34.35" y2="374.05" stroke="#a8a8f4" stroke-width="2.06" stroke-dasharray="1.2 1.2"/>
<rect x="37.51" y="371.1" width="17.01" height="5.9" rx="1.0" fill="#8686e8"/>
<line x1="38.51" y1="374.05" x2="53.52" y2="374.05" stroke="#a8a8f4" stroke-width="2.06" stroke-dasharray="1.2 1.2"/>
<rect x="58.24" y="371.1" width="12.37" height="5.9" rx="1.0" fill="#8686e8"/>
<line x1="59.24" y1="374.05" x2="69.61" y2="374.05" stroke="#a8a8f4" stroke-width="2.06" stroke-dasharray="1.2 1.2"/>
<rect x="72.05" y="371.1" width="15.77" height="5.9" rx="1.0" fill="#8686e8"/>
<line x1="73.05" y1="374.05" x2="86.83" y2="374.05" stroke="#a8a8f4" stroke-width="2.06" stroke-dasharray="1.2 1.2"/>
<rect x="87.83" y="371.1" width="14.12" height="5.9" rx="1.0" fill="#5cbcc4"/>
<rect x="106.49" y="371.1" width="35.05" height="5.9" rx="1.0" fill="#8686e8"/>
<line x1="107.49" y1="374.05" x2="140.54" y2="374.05" stroke="#a8a8f4" stroke-width="2.06" stroke-dasharray="1.2 1.2"/>
<rect x="142.57" y="371.1" width="14.64" height="5.9" rx="1.0" fill="#8686e8"/>
<line x1="143.57" y1="374.05" x2="156.21" y2="374.05" stroke="#a8a8f4" stroke-width="2.06" stroke-dasharray="1.2 1.2"/>
<rect x="159.48" y="371.1" width="12.68" height="5.9" rx="1.0" fill="#8686e8"/>
<line x1="160.48" y1="374.05" x2="171.16" y2="374.05" stroke="#a8a8f4" stroke-width="2.06" stroke-dasharray="1.2 1.2"/>
<rect x="176.59" y="371.1" width="8.35" height="5.9" rx="1.0" fill="#8686e8"/>
<line x1="177.59" y1="374.05" x2="183.95" y2="374.05" stroke="#a8a8f4" stroke-width="2.06" stroke-dasharray="1.2 1.2"/>
<rect x="187.94" y="371.1" width="19.69" height="5.9" rx="1.0" fill="#8686e8"/>
<line x1="188.94" y1="374.05" x2="206.63" y2="374.05" stroke="#a8a8f4" stroke-width="2.06" stroke-dasharray="1.2 1.2"/>
<rect x="210.62" y="371.1" width="17.11" height="5.9" rx="1.0" fill="#8686e8"/>
<line x1="211.62" y1="374.05" x2="226.73" y2="374.05" stroke="#a8a8f4" stroke-width="2.06" stroke-dasharray="1.2 1.2"/>
<rect x="229.18" y="371.1" width="18.97" height="5.9" rx="1.0" fill="#8686e8"/>
<line x1="230.18" y1="374.05" x2="247.15" y2="374.05" stroke="#a8a8f4" stroke-width="2.06" stroke-dasharray="1.2 1.2"/>
<rect x="249.59" y="371.1" width="25.78" height="5.9" rx="1.0" fill="#8686e8"/>
<line x1="250.59" y1="374.05" x2="274.36" y2="374.05" stroke="#a8a8f4" stroke-width="2.06" stroke-dasharray="1.2 1.2"/>
<rect x="276.91" y="371.1" width="8.76" height="5.9" rx="1.0" fill="#8686e8"/>
<line x1="277.91" y1="374.05" x2="284.67" y2="374.05" stroke="#a8a8f4" stroke-width="2.06" stroke-dasharray="1.2 1.2"/>
<rect x="286.5" y="371.1" width="5.88" height="5.9" rx="1.0" fill="#9aa6e8"/>
<rect x="295.37" y="371.1" width="9.69" height="5.9" rx="1.0" fill="#e6b458"/>
<rect x="307.33" y="371.1" width="13.4" height="5.9" rx="1.0" fill="#d02aa0"/>
<rect x="322.79" y="371.1" width="12.37" height="5.9" rx="1.0" fill="#d02aa0"/>
<rect x="338.87" y="371.1" width="7.53" height="5.9" rx="1.0" fill="#5cbcc4"/>
<rect x="357.64" y="371.1" width="24.13" height="5.9" rx="1.0" fill="#e6b458"/>
<rect x="382.38" y="371.1" width="10.21" height="5.9" rx="1.0" fill="#e6b458"/>
<rect x="393.31" y="371.1" width="3.81" height="5.9" rx="1.0" fill="#e6b458"/>
<rect x="398.05" y="371.1" width="9.49" height="5.9" rx="1.0" fill="#d02aa0"/>
<rect x="408.16" y="371.1" width="11.86" height="5.9" rx="1.0" fill="#d02aa0"/>
<rect x="420.84" y="371.1" width="32.89" height="5.9" rx="1.0" fill="#8686e8"/>
<line x1="421.84" y1="374.05" x2="452.73" y2="374.05" stroke="#a8a8f4" stroke-width="2.06" stroke-dasharray="1.2 1.2"/>
<rect x="459.19" y="371.1" width="16.5" height="5.9" rx="1.0" fill="#d02aa0"/>
<rect x="477.13" y="371.1" width="8.25" height="5.9" rx="1.0" fill="#5cbcc4"/>
<rect x="495.17" y="371.1" width="6.8" height="5.9" rx="1.0" fill="#5cbcc4"/>
<rect x="504.97" y="371.1" width="5.26" height="5.9" rx="1.0" fill="#5cbcc4"/>
<rect x="512.49" y="371.1" width="9.07" height="5.9" rx="1.0" fill="#c0306a"/>
<rect x="525.9" y="371.1" width="7.42" height="5.9" rx="1.0" fill="#5cbcc4"/>
<rect x="540.54" y="371.1" width="20.93" height="5.9" rx="1.0" fill="#8686e8"/>
<line x1="541.54" y1="374.05" x2="560.47" y2="374.05" stroke="#a8a8f4" stroke-width="2.06" stroke-dasharray="1.2 1.2"/>
<rect x="564.35" y="371.1" width="3.3" height="5.9" rx="1.0" fill="#8686e8"/>
<line x1="565.35" y1="374.05" x2="566.65" y2="374.05" stroke="#a8a8f4" stroke-width="2.06" stroke-dasharray="1.2 1.2"/>
<rect x="23.8" y="377.5" width="544.16" height="2.5" fill="#8c8c8c"/>
<rect x="23.8" y="380.8" width="143.93" height="2.87" fill="#325b4f"/>
<rect x="23.8" y="383.67" width="143.93" height="0.52" fill="#8ea49e"/>
<rect x="297.43" y="380.8" width="9.38" height="2.87" fill="#325b4f"/>
<rect x="297.43" y="383.67" width="9.38" height="0.52" fill="#8ea49e"/>
<rect x="307.63" y="380.8" width="145.89" height="2.87" fill="#325b4f"/>
<rect x="307.63" y="383.67" width="145.89" height="0.52" fill="#8ea49e"/>
<rect x="494.76" y="380.8" width="28.56" height="2.87" fill="#325b4f"/>
<rect x="494.76" y="383.67" width="28.56" height="0.52" fill="#8ea49e"/>
<rect x="525.28" y="380.8" width="8.76" height="2.87" fill="#325b4f"/>
<rect x="525.28" y="383.67" width="8.76" height="0.52" fill="#8ea49e"/>
<rect x="546.21" y="380.8" width="21.75" height="2.87" fill="#325b4f"/>
<rect x="546.21" y="383.67" width="21.75" height="0.52" fill="#8ea49e"/>
<rect x="23.8" y="384.19" width="544.16" height="0.96" fill="#8a8a8a"/>
<rect x="23.8" y="385.15" width="143.93" height="2.87" fill="#400f7d"/>
<rect x="23.8" y="388.02" width="143.93" height="0.52" fill="#957bb7"/>
<rect x="297.43" y="385.15" width="9.38" height="2.87" fill="#400f7d"/>
<rect x="297.43" y="388.02" width="9.38" height="0.52" fill="#957bb7"/>
<rect x="307.63" y="385.15" width="145.89" height="2.87" fill="#400f7d"/>
<rect x="307.63" y="388.02" width="145.89" height="0.52" fill="#957bb7"/>
<rect x="494.76" y="385.15" width="28.56" height="2.87" fill="#400f7d"/>
<rect x="494.76" y="388.02" width="28.56" height="0.52" fill="#957bb7"/>
<rect x="525.28" y="385.15" width="8.76" height="2.87" fill="#400f7d"/>
<rect x="525.28" y="388.02" width="8.76" height="0.52" fill="#957bb7"/>
<rect x="546.21" y="385.15" width="21.75" height="2.87" fill="#400f7d"/>
<rect x="546.21" y="388.02" width="21.75" height="0.52" fill="#957bb7"/>
<rect x="23.8" y="388.54" width="544.16" height="0.96" fill="#8a8a8a"/>
<rect x="23.8" y="389.5" width="143.93" height="2.87" fill="#4fa04f"/>
<rect x="23.8" y="392.37" width="143.93" height="0.52" fill="#9eca9e"/>
<rect x="297.43" y="389.5" width="9.38" height="2.87" fill="#4fa04f"/>
<rect x="297.43" y="392.37" width="9.38" height="0.52" fill="#9eca9e"/>
<rect x="307.63" y="389.5" width="145.89" height="2.87" fill="#4fa04f"/>
<rect x="307.63" y="392.37" width="145.89" height="0.52" fill="#9eca9e"/>
<rect x="494.76" y="389.5" width="28.56" height="2.87" fill="#4fa04f"/>
<rect x="494.76" y="392.37" width="28.56" height="0.52" fill="#9eca9e"/>
<rect x="525.28" y="389.5" width="8.76" height="2.87" fill="#4fa04f"/>
<rect x="525.28" y="392.37" width="8.76" height="0.52" fill="#9eca9e"/>
<rect x="546.21" y="389.5" width="21.75" height="2.87" fill="#4fa04f"/>
<rect x="546.21" y="392.37" width="21.75" height="0.52" fill="#9eca9e"/>
<rect x="23.8" y="392.89" width="544.16" height="0.96" fill="#8a8a8a"/>
<rect x="23.8" y="393.85" width="143.93" height="2.87" fill="#9148cb"/>
<rect x="23.8" y="396.72" width="143.93" height="0.52" fill="#c29ae2"/>
<rect x="297.43" y="393.85" width="9.49" height="2.87" fill="#9148cb"/>
<rect x="297.43" y="396.72" width="9.49" height="0.52" fill="#c29ae2"/>
<rect x="313" y="393.85" width="9.28" height="2.87" fill="#9148cb"/>
<rect x="313" y="396.72" width="9.28" height="0.52" fill="#c29ae2"/>
<rect x="330.01" y="393.85" width="123.51" height="2.87" fill="#9148cb"/>
<rect x="330.01" y="396.72" width="123.51" height="0.52" fill="#c29ae2"/>
<rect x="494.76" y="393.85" width="28.56" height="2.87" fill="#9148cb"/>
<rect x="494.76" y="396.72" width="28.56" height="0.52" fill="#c29ae2"/>
<rect x="525.28" y="393.85" width="8.76" height="2.87" fill="#9148cb"/>
<rect x="525.28" y="396.72" width="8.76" height="0.52" fill="#c29ae2"/>
<rect x="546.21" y="393.85" width="21.75" height="2.87" fill="#9148cb"/>
<rect x="546.21" y="396.72" width="21.75" height="0.52" fill="#c29ae2"/>
<rect x="23.8" y="397.24" width="544.16" height="0.96" fill="#8a8a8a"/>
<rect x="23.8" y="398.2" width="96.19" height="2.87" fill="#7abbc2"/>
<rect x="23.8" y="401.07" width="96.19" height="0.52" fill="#b5d9dd"/>
<rect x="297.43" y="398.2" width="9.38" height="2.87" fill="#7abbc2"/>
<rect x="297.43" y="401.07" width="9.38" height="0.52" fill="#b5d9dd"/>
<rect x="307.63" y="398.2" width="141.25" height="2.87" fill="#7abbc2"/>
<rect x="307.63" y="401.07" width="141.25" height="0.52" fill="#b5d9dd"/>
<rect x="494.76" y="398.2" width="28.56" height="2.87" fill="#7abbc2"/>
<rect x="494.76" y="401.07" width="28.56" height="0.52" fill="#b5d9dd"/>
<rect x="525.28" y="398.2" width="42.68" height="2.87" fill="#7abbc2"/>
<rect x="525.28" y="401.07" width="42.68" height="0.52" fill="#b5d9dd"/>
<rect x="23.8" y="401.59" width="544.16" height="0.96" fill="#8a8a8a"/>
<rect x="23.8" y="402.55" width="96.19" height="2.87" fill="#c17596"/>
<rect x="23.8" y="405.42" width="96.19" height="0.52" fill="#dcb3c5"/>
<rect x="297.43" y="402.55" width="9.38" height="2.87" fill="#c17596"/>
<rect x="297.43" y="405.42" width="9.38" height="0.52" fill="#dcb3c5"/>
<rect x="307.63" y="402.55" width="141.25" height="2.87" fill="#c17596"/>
<rect x="307.63" y="405.42" width="141.25" height="0.52" fill="#dcb3c5"/>
<rect x="494.76" y="402.55" width="28.56" height="2.87" fill="#c17596"/>
<rect x="494.76" y="405.42" width="28.56" height="0.52" fill="#dcb3c5"/>
<rect x="525.28" y="402.55" width="42.68" height="2.87" fill="#c17596"/>
<rect x="525.28" y="405.42" width="42.68" height="0.52" fill="#dcb3c5"/>
<rect x="23.8" y="405.94" width="544.16" height="0.96" fill="#8a8a8a"/>
<rect x="23.8" y="406.9" width="79.28" height="2.87" fill="#d7a97b"/>
<rect x="23.8" y="409.77" width="79.28" height="0.52" fill="#e9cfb6"/>
<rect x="287.74" y="406.9" width="19.18" height="2.87" fill="#d7a97b"/>
<rect x="287.74" y="409.77" width="19.18" height="0.52" fill="#e9cfb6"/>
<rect x="313" y="406.9" width="35.47" height="2.87" fill="#d7a97b"/>
<rect x="313" y="409.77" width="35.47" height="0.52" fill="#e9cfb6"/>
<rect x="426.92" y="406.9" width="31.86" height="2.87" fill="#d7a97b"/>
<rect x="426.92" y="409.77" width="31.86" height="0.52" fill="#e9cfb6"/>
<rect x="494.76" y="406.9" width="7.94" height="2.87" fill="#d7a97b"/>
<rect x="494.76" y="409.77" width="7.94" height="0.52" fill="#e9cfb6"/>
<rect x="525.28" y="406.9" width="8.45" height="2.87" fill="#d7a97b"/>
<rect x="525.28" y="409.77" width="8.45" height="0.52" fill="#e9cfb6"/>
<rect x="23.8" y="410.29" width="544.16" height="0.96" fill="#8a8a8a"/>
<rect x="23.8" y="411.25" width="87.64" height="2.87" fill="#2536a8"/>
<rect x="23.8" y="414.12" width="87.64" height="0.52" fill="#8790cf"/>
<rect x="291.45" y="411.25" width="15.46" height="2.87" fill="#2536a8"/>
<rect x="291.45" y="414.12" width="15.46" height="0.52" fill="#8790cf"/>
<rect x="313" y="411.25" width="37.84" height="2.87" fill="#2536a8"/>
<rect x="313" y="414.12" width="37.84" height="0.52" fill="#8790cf"/>
<rect x="426.92" y="411.25" width="31.86" height="2.87" fill="#2536a8"/>
<rect x="426.92" y="414.12" width="31.86" height="0.52" fill="#8790cf"/>
<rect x="494.76" y="411.25" width="73.2" height="2.87" fill="#2536a8"/>
<rect x="494.76" y="414.12" width="73.2" height="0.52" fill="#8790cf"/>
<rect x="23.8" y="414.64" width="544.16" height="0.96" fill="#8a8a8a"/>
<rect x="23.8" y="415.6" width="11.55" height="2.87" fill="#c26673"/>
<rect x="23.8" y="418.47" width="11.55" height="0.52" fill="#ddaab2"/>
<rect x="538.99" y="415.6" width="28.97" height="2.87" fill="#c26673"/>
<rect x="538.99" y="418.47" width="28.97" height="0.52" fill="#ddaab2"/>
<rect x="23.8" y="418.99" width="544.16" height="0.96" fill="#8a8a8a"/>
<rect x="23.8" y="419.95" width="11.55" height="2.87" fill="#7bd77b"/>
<rect x="23.8" y="422.82" width="11.55" height="0.52" fill="#b6e9b6"/>
<rect x="538.99" y="419.95" width="28.97" height="2.87" fill="#7bd77b"/>
<rect x="538.99" y="422.82" width="28.97" height="0.52" fill="#b6e9b6"/>
<rect x="23.8" y="423.34" width="544.16" height="0.96" fill="#8a8a8a"/>
<defs><linearGradient id="sg1103" gradientUnits="userSpaceOnUse" x1="84.22" y1="0" x2="105.56" y2="0"><stop offset="0" stop-color="#302020" stop-opacity="0"/><stop offset="0.3" stop-color="#302020" stop-opacity="0.11"/><stop offset="0.7" stop-color="#302020" stop-opacity="0.11"/><stop offset="1" stop-color="#302020" stop-opacity="0"/></linearGradient></defs>
<rect x="84.22" y="380.8" width="21.34" height="3.57" fill="url(#sg1103)"/>
<rect x="84.22" y="385.15" width="21.34" height="3.57" fill="url(#sg1103)"/>
<rect x="84.22" y="389.5" width="21.34" height="3.57" fill="url(#sg1103)"/>
<rect x="84.22" y="393.85" width="21.34" height="3.57" fill="url(#sg1103)"/>
<rect x="84.22" y="398.2" width="21.34" height="3.57" fill="url(#sg1103)"/>
<rect x="84.22" y="402.55" width="21.34" height="3.57" fill="url(#sg1103)"/>
<rect x="84.22" y="406.9" width="18.87" height="3.57" fill="url(#sg1103)"/>
<rect x="84.22" y="411.25" width="21.34" height="3.57" fill="url(#sg1103)"/>
<defs><linearGradient id="sg1112" gradientUnits="userSpaceOnUse" x1="335.27" y1="0" x2="350.01" y2="0"><stop offset="0" stop-color="#302020" stop-opacity="0"/><stop offset="0.3" stop-color="#302020" stop-opacity="0.09"/><stop offset="0.7" stop-color="#302020" stop-opacity="0.09"/><stop offset="1" stop-color="#302020" stop-opacity="0"/></linearGradient></defs>
<rect x="335.27" y="380.8" width="14.74" height="3.57" fill="url(#sg1112)"/>
<rect x="335.27" y="385.15" width="14.74" height="3.57" fill="url(#sg1112)"/>
<rect x="335.27" y="389.5" width="14.74" height="3.57" fill="url(#sg1112)"/>
<rect x="335.27" y="393.85" width="14.74" height="3.57" fill="url(#sg1112)"/>
<rect x="335.27" y="398.2" width="14.74" height="3.57" fill="url(#sg1112)"/>
<rect x="335.27" y="402.55" width="14.74" height="3.57" fill="url(#sg1112)"/>
<rect x="335.27" y="406.9" width="13.2" height="3.57" fill="url(#sg1112)"/>
<rect x="335.27" y="411.25" width="14.74" height="3.57" fill="url(#sg1112)"/>
<defs><linearGradient id="sg1121" gradientUnits="userSpaceOnUse" x1="522.29" y1="0" x2="536.93" y2="0"><stop offset="0" stop-color="#302020" stop-opacity="0"/><stop offset="0.3" stop-color="#302020" stop-opacity="0.06"/><stop offset="0.7" stop-color="#302020" stop-opacity="0.06"/><stop offset="1" stop-color="#302020" stop-opacity="0"/></linearGradient></defs>
<rect x="522.29" y="380.8" width="1.03" height="3.57" fill="url(#sg1121)"/>
<rect x="525.28" y="380.8" width="8.76" height="3.57" fill="url(#sg1121)"/>
<rect x="522.29" y="385.15" width="1.03" height="3.57" fill="url(#sg1121)"/>
<rect x="525.28" y="385.15" width="8.76" height="3.57" fill="url(#sg1121)"/>
<rect x="522.29" y="389.5" width="1.03" height="3.57" fill="url(#sg1121)"/>
<rect x="525.28" y="389.5" width="8.76" height="3.57" fill="url(#sg1121)"/>
<rect x="522.29" y="393.85" width="1.03" height="3.57" fill="url(#sg1121)"/>
<rect x="525.28" y="393.85" width="8.76" height="3.57" fill="url(#sg1121)"/>
<rect x="522.29" y="398.2" width="1.03" height="3.57" fill="url(#sg1121)"/>
<rect x="525.28" y="398.2" width="11.65" height="3.57" fill="url(#sg1121)"/>
<rect x="522.29" y="402.55" width="1.03" height="3.57" fill="url(#sg1121)"/>
<rect x="525.28" y="402.55" width="11.65" height="3.57" fill="url(#sg1121)"/>
<rect x="525.28" y="406.9" width="8.45" height="3.57" fill="url(#sg1121)"/>
<rect x="522.29" y="411.25" width="14.64" height="3.57" fill="url(#sg1121)"/>
<rect x="23" y="425.7" width="1.6" height="4" fill="#111"/>
<rect x="33.66" y="426.4" width="0.9" height="1.6" fill="#333"/>
<rect x="43.97" y="426.4" width="0.9" height="1.6" fill="#333"/>
<rect x="54.28" y="426.4" width="0.9" height="1.6" fill="#333"/>
<rect x="64.59" y="426.4" width="0.9" height="1.6" fill="#333"/>
<rect x="74.9" y="425.7" width="0.9" height="3.4" fill="#333"/>
<text x="75.85" y="439.2" class="kb" text-anchor="middle">5 kbp</text>
<rect x="85.21" y="426.4" width="0.9" height="1.6" fill="#333"/>
<rect x="95.52" y="426.4" width="0.9" height="1.6" fill="#333"/>
<rect x="105.83" y="426.4" width="0.9" height="1.6" fill="#333"/>
<rect x="116.14" y="426.4" width="0.9" height="1.6" fill="#333"/>
<rect x="126.45" y="425.7" width="0.9" height="3.4" fill="#333"/>
<text x="127.4" y="439.2" class="kb" text-anchor="middle">10 kbp</text>
<rect x="136.76" y="426.4" width="0.9" height="1.6" fill="#333"/>
<rect x="147.07" y="426.4" width="0.9" height="1.6" fill="#333"/>
<rect x="157.38" y="426.4" width="0.9" height="1.6" fill="#333"/>
<rect x="167.69" y="426.4" width="0.9" height="1.6" fill="#333"/>
<rect x="178" y="425.7" width="0.9" height="3.4" fill="#333"/>
<text x="178.95" y="439.2" class="kb" text-anchor="middle">15 kbp</text>
<rect x="188.31" y="426.4" width="0.9" height="1.6" fill="#333"/>
<rect x="198.62" y="426.4" width="0.9" height="1.6" fill="#333"/>
<rect x="208.93" y="426.4" width="0.9" height="1.6" fill="#333"/>
<rect x="219.24" y="426.4" width="0.9" height="1.6" fill="#333"/>
<rect x="229.55" y="425.7" width="0.9" height="3.4" fill="#333"/>
<text x="230.5" y="439.2" class="kb" text-anchor="middle">20 kbp</text>
<rect x="239.86" y="426.4" width="0.9" height="1.6" fill="#333"/>
<rect x="250.17" y="426.4" width="0.9" height="1.6" fill="#333"/>
<rect x="260.48" y="426.4" width="0.9" height="1.6" fill="#333"/>
<rect x="270.79" y="426.4" width="0.9" height="1.6" fill="#333"/>
<rect x="281.1" y="425.7" width="0.9" height="3.4" fill="#333"/>
<text x="282.05" y="439.2" class="kb" text-anchor="middle">25 kbp</text>
<rect x="291.41" y="426.4" width="0.9" height="1.6" fill="#333"/>
<rect x="301.72" y="426.4" width="0.9" height="1.6" fill="#333"/>
<rect x="312.03" y="426.4" width="0.9" height="1.6" fill="#333"/>
<rect x="322.34" y="426.4" width="0.9" height="1.6" fill="#333"/>
<rect x="332.65" y="425.7" width="0.9" height="3.4" fill="#333"/>
<text x="333.6" y="439.2" class="kb" text-anchor="middle">30 kbp</text>
<rect x="342.96" y="426.4" width="0.9" height="1.6" fill="#333"/>
<rect x="353.27" y="426.4" width="0.9" height="1.6" fill="#333"/>
<rect x="363.58" y="426.4" width="0.9" height="1.6" fill="#333"/>
<rect x="373.89" y="426.4" width="0.9" height="1.6" fill="#333"/>
<rect x="384.2" y="425.7" width="0.9" height="3.4" fill="#333"/>
<text x="385.15" y="439.2" class="kb" text-anchor="middle">35 kbp</text>
<rect x="394.51" y="426.4" width="0.9" height="1.6" fill="#333"/>
<rect x="404.82" y="426.4" width="0.9" height="1.6" fill="#333"/>
<rect x="415.13" y="426.4" width="0.9" height="1.6" fill="#333"/>
<rect x="425.44" y="426.4" width="0.9" height="1.6" fill="#333"/>
<rect x="435.75" y="425.7" width="0.9" height="3.4" fill="#333"/>
<text x="436.7" y="439.2" class="kb" text-anchor="middle">40 kbp</text>
<rect x="446.06" y="426.4" width="0.9" height="1.6" fill="#333"/>
<rect x="456.37" y="426.4" width="0.9" height="1.6" fill="#333"/>
<rect x="466.68" y="426.4" width="0.9" height="1.6" fill="#333"/>
<rect x="476.99" y="426.4" width="0.9" height="1.6" fill="#333"/>
<rect x="487.3" y="425.7" width="0.9" height="3.4" fill="#333"/>
<text x="488.25" y="439.2" class="kb" text-anchor="middle">45 kbp</text>
<rect x="497.61" y="426.4" width="0.9" height="1.6" fill="#333"/>
<rect x="507.92" y="426.4" width="0.9" height="1.6" fill="#333"/>
<rect x="518.23" y="426.4" width="0.9" height="1.6" fill="#333"/>
<rect x="528.54" y="426.4" width="0.9" height="1.6" fill="#333"/>
<rect x="538.85" y="425.7" width="0.9" height="3.4" fill="#333"/>
<text x="539.8" y="439.2" class="kb" text-anchor="middle">50 kbp</text>
<rect x="549.16" y="426.4" width="0.9" height="1.6" fill="#333"/>
<rect x="559.47" y="426.4" width="0.9" height="1.6" fill="#333"/>
<rect x="592.9" y="326.1" width="7.3" height="7.2" fill="#2a6050"/>
<text x="602.4" y="332.6" class="lg">NZ_CP102719.1</text>
<rect x="592.9" y="336.65" width="7.3" height="7.2" fill="#400890"/>
<text x="602.4" y="343.15" class="lg">NZ_CP104049.1</text>
<rect x="592.9" y="347.2" width="7.3" height="7.2" fill="#40a040"/>
<text x="602.4" y="353.7" class="lg">NZ_CP102739.1</text>
<rect x="592.9" y="357.75" width="7.3" height="7.2" fill="#9030e0"/>
<text x="602.4" y="364.25" class="lg">NZ_CP102756.1</text>
<rect x="592.9" y="368.3" width="7.3" height="7.2" fill="#68b8c4"/>
<text x="602.4" y="374.8" class="lg">SSSE-01</text>
<rect x="592.9" y="378.85" width="7.3" height="7.2" fill="#c068a0"/>
<text x="602.4" y="385.35" class="lg">SSSE-03</text>
<rect x="592.9" y="389.4" width="7.3" height="7.2" fill="#e0a060"/>
<text x="602.4" y="395.9" class="lg">NZ_CP091997.1</text>
<rect x="592.9" y="399.95" width="7.3" height="7.2" fill="#2030c0"/>
<text x="602.4" y="406.45" class="lg">NZ_CP091998.1</text>
<rect x="592.9" y="410.5" width="7.3" height="7.2" fill="#d06878"/>
<text x="602.4" y="417" class="lg">NZ_CP022500.1</text>
<rect x="592.9" y="421.05" width="7.3" height="7.2" fill="#60f060"/>
<text x="602.4" y="427.55" class="lg">NZ_CP051346.1</text>
</svg>
</body></html>
